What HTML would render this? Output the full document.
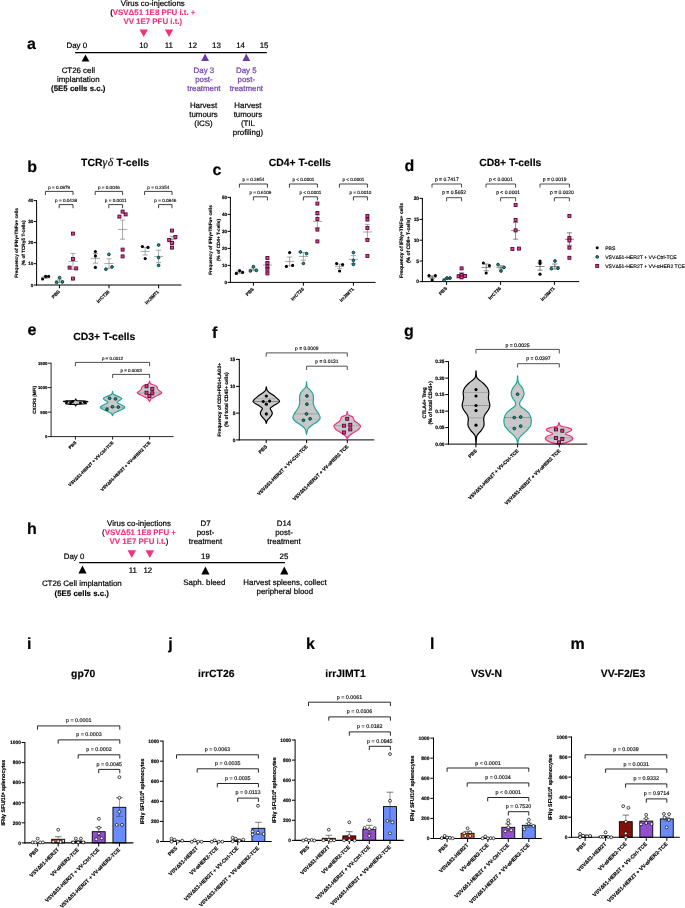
<!DOCTYPE html>
<html><head><meta charset="utf-8"><title>Figure</title>
<style>html,body{margin:0;padding:0;background:#fff}svg{display:block}text{font-family:"Liberation Sans", sans-serif;text-rendering:geometricPrecision}</style>
</head><body>
<svg width="685" height="908" viewBox="0 0 685 908">
<rect width="685" height="908" fill="#fff"/>
<text x="27.00" y="48.90" font-size="16" font-weight="bold" stroke="#000" stroke-width="0.17">a</text>
<text x="27.20" y="171.80" font-size="16" font-weight="bold" stroke="#000" stroke-width="0.17">b</text>
<text x="212.40" y="174.60" font-size="16" font-weight="bold" stroke="#000" stroke-width="0.17">c</text>
<text x="404.40" y="171.40" font-size="16" font-weight="bold" stroke="#000" stroke-width="0.17">d</text>
<text x="27.40" y="335.20" font-size="16" font-weight="bold" stroke="#000" stroke-width="0.17">e</text>
<text x="212.00" y="337.80" font-size="16" font-weight="bold" stroke="#000" stroke-width="0.17">f</text>
<text x="404.00" y="335.80" font-size="16" font-weight="bold" stroke="#000" stroke-width="0.17">g</text>
<text x="27.00" y="533.70" font-size="16" font-weight="bold" stroke="#000" stroke-width="0.17">h</text>
<text x="27.00" y="649.00" font-size="16" font-weight="bold" stroke="#000" stroke-width="0.17">i</text>
<text x="168.20" y="649.00" font-size="16" font-weight="bold" stroke="#000" stroke-width="0.17">j</text>
<text x="306.00" y="649.00" font-size="16" font-weight="bold" stroke="#000" stroke-width="0.17">k</text>
<text x="429.90" y="649.00" font-size="16" font-weight="bold" stroke="#000" stroke-width="0.17">l</text>
<text x="570.60" y="649.00" font-size="16" font-weight="bold" stroke="#000" stroke-width="0.17">m</text>
<text x="152.80" y="5.60" font-size="7.9" text-anchor="middle" stroke="#000" stroke-width="0.20">Virus co-injections</text>
<text x="152.80" y="15.00" font-size="7.9" font-weight="bold" text-anchor="middle" fill="#f5317f" stroke="#f5317f" stroke-width="0.12"><tspan fill="#111" stroke="#111">(</tspan>VSVΔ51 1E8 PFU i.t. +</text>
<text x="152.80" y="24.00" font-size="7.9" font-weight="bold" text-anchor="middle" fill="#f5317f" stroke="#f5317f" stroke-width="0.12">VV 1E7 PFU i.t.)</text>
<polygon points="139.45,29.50 147.95,29.50 143.70,36.90" fill="#f5317f"/>
<polygon points="164.75,29.50 173.25,29.50 169.00,36.90" fill="#f5317f"/>
<text x="66.50" y="48.40" font-size="7.9" stroke="#000" stroke-width="0.20">Day 0</text>
<text x="143.60" y="48.40" font-size="7.9" text-anchor="middle" stroke="#000" stroke-width="0.20">10</text>
<text x="168.90" y="48.40" font-size="7.9" text-anchor="middle" stroke="#000" stroke-width="0.20">11</text>
<text x="192.70" y="48.40" font-size="7.9" text-anchor="middle" stroke="#000" stroke-width="0.20">12</text>
<text x="216.50" y="48.40" font-size="7.9" text-anchor="middle" stroke="#000" stroke-width="0.20">13</text>
<text x="240.60" y="48.40" font-size="7.9" text-anchor="middle" stroke="#000" stroke-width="0.20">14</text>
<text x="264.10" y="48.40" font-size="7.9" text-anchor="middle" stroke="#000" stroke-width="0.20">15</text>
<line x1="75.10" y1="52.70" x2="266.80" y2="52.70" stroke="#000" stroke-width="1.3"/>
<polygon points="81.60,61.40 89.40,61.40 85.50,54.60" fill="#000"/>
<polygon points="201.20,60.90 209.00,60.90 205.10,53.60" fill="#6d3aa8"/>
<polygon points="242.40,60.90 250.20,60.90 246.30,53.60" fill="#6d3aa8"/>
<text x="78.30" y="72.50" font-size="7.9" text-anchor="middle" stroke="#000" stroke-width="0.20">CT26 cell</text>
<text x="78.30" y="81.50" font-size="7.9" text-anchor="middle" stroke="#000" stroke-width="0.20">implantation</text>
<text x="78.30" y="90.60" font-size="7.9" font-weight="bold" text-anchor="middle" stroke="#000" stroke-width="0.12">(5E5 cells s.c.)</text>
<text x="203.90" y="72.50" font-size="7.9" text-anchor="middle" fill="#6d3aa8" stroke="#6d3aa8" stroke-width="0.20">Day 3</text>
<text x="203.90" y="81.55" font-size="7.9" text-anchor="middle" fill="#6d3aa8" stroke="#6d3aa8" stroke-width="0.20">post-</text>
<text x="203.90" y="90.60" font-size="7.9" text-anchor="middle" fill="#6d3aa8" stroke="#6d3aa8" stroke-width="0.20">treatment</text>
<text x="246.30" y="72.50" font-size="7.9" text-anchor="middle" fill="#6d3aa8" stroke="#6d3aa8" stroke-width="0.20">Day 5</text>
<text x="246.30" y="81.55" font-size="7.9" text-anchor="middle" fill="#6d3aa8" stroke="#6d3aa8" stroke-width="0.20">post-</text>
<text x="246.30" y="90.60" font-size="7.9" text-anchor="middle" fill="#6d3aa8" stroke="#6d3aa8" stroke-width="0.20">treatment</text>
<text x="203.50" y="107.60" font-size="7.9" text-anchor="middle" stroke="#000" stroke-width="0.20">Harvest</text>
<text x="203.50" y="116.70" font-size="7.9" text-anchor="middle" stroke="#000" stroke-width="0.20">tumours</text>
<text x="203.50" y="125.80" font-size="7.9" text-anchor="middle" stroke="#000" stroke-width="0.20">(ICS)</text>
<text x="247.90" y="107.60" font-size="7.9" text-anchor="middle" stroke="#000" stroke-width="0.20">Harvest</text>
<text x="247.90" y="116.70" font-size="7.9" text-anchor="middle" stroke="#000" stroke-width="0.20">tumours</text>
<text x="247.90" y="125.80" font-size="7.9" text-anchor="middle" stroke="#000" stroke-width="0.20">(TIL</text>
<text x="247.90" y="134.90" font-size="7.9" text-anchor="middle" stroke="#000" stroke-width="0.20">profiling)</text>
<text x="115.00" y="166.00" font-size="10.4" font-weight="bold" text-anchor="middle" stroke="#000" stroke-width="0.14">TCR<tspan font-family='"Liberation Serif", serif' font-style="italic" font-weight="normal" font-size="11.8" letter-spacing="0.6">γδ</tspan> T-cells</text>
<line x1="36.60" y1="200.10" x2="36.60" y2="285.50" stroke="#000" stroke-width="1.0"/>
<line x1="33.80" y1="200.60" x2="36.60" y2="200.60" stroke="#000" stroke-width="1.0"/>
<text x="33.30" y="202.26" font-size="4.6" font-weight="bold" text-anchor="end" stroke="#000" stroke-width="0.17">40</text>
<line x1="33.80" y1="221.50" x2="36.60" y2="221.50" stroke="#000" stroke-width="1.0"/>
<text x="33.30" y="223.16" font-size="4.6" font-weight="bold" text-anchor="end" stroke="#000" stroke-width="0.17">30</text>
<line x1="33.80" y1="242.60" x2="36.60" y2="242.60" stroke="#000" stroke-width="1.0"/>
<text x="33.30" y="244.26" font-size="4.6" font-weight="bold" text-anchor="end" stroke="#000" stroke-width="0.17">20</text>
<line x1="33.80" y1="263.70" x2="36.60" y2="263.70" stroke="#000" stroke-width="1.0"/>
<text x="33.30" y="265.36" font-size="4.6" font-weight="bold" text-anchor="end" stroke="#000" stroke-width="0.17">10</text>
<line x1="33.80" y1="285.00" x2="36.60" y2="285.00" stroke="#000" stroke-width="1.0"/>
<text x="33.30" y="286.66" font-size="4.6" font-weight="bold" text-anchor="end" stroke="#000" stroke-width="0.17">0</text>
<line x1="35.90" y1="285.00" x2="181.40" y2="285.00" stroke="#000" stroke-width="1.0"/>
<text x="17.60" y="243.00" font-size="4.68" font-weight="bold" text-anchor="middle" stroke="#000" stroke-width="0.17" transform="rotate(-90 17.60 243.00)">Frequency of IFNγ+TNFα+ cells</text>
<text x="25.20" y="243.00" font-size="4.68" font-weight="bold" text-anchor="middle" stroke="#000" stroke-width="0.17" transform="rotate(-90 25.20 243.00)">(% of TCRγδ T-cells)</text>
<line x1="59.40" y1="285.00" x2="59.40" y2="288.30" stroke="#000" stroke-width="1.0"/>
<text x="60.20" y="292.10" font-size="4.6" font-weight="bold" text-anchor="end" stroke="#000" stroke-width="0.17" transform="rotate(-45 60.20 292.10)">PBS</text>
<line x1="109.00" y1="285.00" x2="109.00" y2="288.30" stroke="#000" stroke-width="1.0"/>
<text x="109.80" y="292.10" font-size="4.6" font-weight="bold" text-anchor="end" stroke="#000" stroke-width="0.17" transform="rotate(-45 109.80 292.10)">irrCT26</text>
<line x1="158.60" y1="285.00" x2="158.60" y2="288.30" stroke="#000" stroke-width="1.0"/>
<text x="159.40" y="292.10" font-size="4.6" font-weight="bold" text-anchor="end" stroke="#000" stroke-width="0.17" transform="rotate(-45 159.40 292.10)">irrJIMT1</text>
<path d="M45.40 195.00V191.40H73.00V195.00" fill="none" stroke="#111" stroke-width="0.8"/>
<text x="59.20" y="188.50" font-size="4.63" text-anchor="middle" fill="#111" stroke="#111" stroke-width="0.15">p = 0.0979</text>
<path d="M59.20 208.20V204.60H73.00V208.20" fill="none" stroke="#111" stroke-width="0.8"/>
<text x="66.10" y="201.50" font-size="4.63" text-anchor="middle" fill="#111" stroke="#111" stroke-width="0.15">p = 0.0438</text>
<path d="M95.20 195.00V191.40H122.60V195.00" fill="none" stroke="#111" stroke-width="0.8"/>
<text x="108.90" y="188.50" font-size="4.63" text-anchor="middle" fill="#111" stroke="#111" stroke-width="0.15">p = 0.0046</text>
<path d="M108.80 208.20V204.60H122.60V208.20" fill="none" stroke="#111" stroke-width="0.8"/>
<text x="115.70" y="201.50" font-size="4.63" text-anchor="middle" fill="#111" stroke="#111" stroke-width="0.15">p = 0.0011</text>
<path d="M144.60 195.00V191.40H172.00V195.00" fill="none" stroke="#111" stroke-width="0.8"/>
<text x="158.30" y="188.50" font-size="4.63" text-anchor="middle" fill="#111" stroke="#111" stroke-width="0.15">p = 0.2354</text>
<path d="M158.60 208.20V204.60H172.00V208.20" fill="none" stroke="#111" stroke-width="0.8"/>
<text x="165.30" y="201.50" font-size="4.63" text-anchor="middle" fill="#111" stroke="#111" stroke-width="0.15">p = 0.0846</text>
<line x1="41.00" y1="277.20" x2="50.20" y2="277.20" stroke="#707070" stroke-width="0.6"/>
<line x1="45.60" y1="276.20" x2="45.60" y2="278.40" stroke="#707070" stroke-width="0.6"/>
<line x1="43.00" y1="276.20" x2="48.20" y2="276.20" stroke="#707070" stroke-width="0.6"/>
<line x1="43.00" y1="278.40" x2="48.20" y2="278.40" stroke="#707070" stroke-width="0.6"/>
<circle cx="42.60" cy="279.00" r="1.58" fill="#000"/>
<circle cx="45.60" cy="276.40" r="1.58" fill="#000"/>
<circle cx="48.60" cy="276.40" r="1.58" fill="#000"/>
<line x1="54.90" y1="280.80" x2="64.10" y2="280.80" stroke="#707070" stroke-width="0.6"/>
<line x1="59.50" y1="279.20" x2="59.50" y2="282.40" stroke="#707070" stroke-width="0.6"/>
<line x1="56.90" y1="279.20" x2="62.10" y2="279.20" stroke="#707070" stroke-width="0.6"/>
<line x1="56.90" y1="282.40" x2="62.10" y2="282.40" stroke="#707070" stroke-width="0.6"/>
<circle cx="59.60" cy="277.60" r="1.38" fill="#0e968c" stroke="#062e2b" stroke-width="0.85"/>
<circle cx="56.60" cy="282.40" r="1.38" fill="#0e968c" stroke="#062e2b" stroke-width="0.85"/>
<circle cx="62.40" cy="282.00" r="1.38" fill="#0e968c" stroke="#062e2b" stroke-width="0.85"/>
<line x1="68.40" y1="261.40" x2="77.60" y2="261.40" stroke="#707070" stroke-width="0.6"/>
<line x1="73.00" y1="253.40" x2="73.00" y2="269.40" stroke="#707070" stroke-width="0.6"/>
<line x1="70.40" y1="253.40" x2="75.60" y2="253.40" stroke="#707070" stroke-width="0.6"/>
<line x1="70.40" y1="269.40" x2="75.60" y2="269.40" stroke="#707070" stroke-width="0.6"/>
<rect x="71.50" y="232.10" width="3.0" height="3.0" fill="#fa309b" stroke="#3f0626" stroke-width="0.85"/>
<rect x="71.50" y="257.50" width="3.0" height="3.0" fill="#fa309b" stroke="#3f0626" stroke-width="0.85"/>
<rect x="68.10" y="266.10" width="3.0" height="3.0" fill="#fa309b" stroke="#3f0626" stroke-width="0.85"/>
<rect x="74.70" y="266.90" width="3.0" height="3.0" fill="#fa309b" stroke="#3f0626" stroke-width="0.85"/>
<rect x="71.50" y="277.10" width="3.0" height="3.0" fill="#fa309b" stroke="#3f0626" stroke-width="0.85"/>
<line x1="90.80" y1="258.40" x2="100.00" y2="258.40" stroke="#707070" stroke-width="0.6"/>
<line x1="95.40" y1="253.50" x2="95.40" y2="263.20" stroke="#707070" stroke-width="0.6"/>
<line x1="92.80" y1="253.50" x2="98.00" y2="253.50" stroke="#707070" stroke-width="0.6"/>
<line x1="92.80" y1="263.20" x2="98.00" y2="263.20" stroke="#707070" stroke-width="0.6"/>
<circle cx="95.40" cy="251.50" r="1.58" fill="#000"/>
<circle cx="95.40" cy="255.90" r="1.58" fill="#000"/>
<circle cx="95.40" cy="267.40" r="1.58" fill="#000"/>
<line x1="104.40" y1="263.50" x2="113.60" y2="263.50" stroke="#707070" stroke-width="0.6"/>
<line x1="109.00" y1="258.80" x2="109.00" y2="268.40" stroke="#707070" stroke-width="0.6"/>
<line x1="106.40" y1="258.80" x2="111.60" y2="258.80" stroke="#707070" stroke-width="0.6"/>
<line x1="106.40" y1="268.40" x2="111.60" y2="268.40" stroke="#707070" stroke-width="0.6"/>
<circle cx="108.90" cy="254.40" r="1.38" fill="#0e968c" stroke="#062e2b" stroke-width="0.85"/>
<circle cx="105.90" cy="269.20" r="1.38" fill="#0e968c" stroke="#062e2b" stroke-width="0.85"/>
<circle cx="112.00" cy="266.90" r="1.38" fill="#0e968c" stroke="#062e2b" stroke-width="0.85"/>
<line x1="118.00" y1="229.40" x2="127.20" y2="229.40" stroke="#707070" stroke-width="0.6"/>
<line x1="122.60" y1="220.00" x2="122.60" y2="239.20" stroke="#707070" stroke-width="0.6"/>
<line x1="120.00" y1="220.00" x2="125.20" y2="220.00" stroke="#707070" stroke-width="0.6"/>
<line x1="120.00" y1="239.20" x2="125.20" y2="239.20" stroke="#707070" stroke-width="0.6"/>
<rect x="121.10" y="210.10" width="3.0" height="3.0" fill="#fa309b" stroke="#3f0626" stroke-width="0.85"/>
<rect x="117.90" y="215.10" width="3.0" height="3.0" fill="#fa309b" stroke="#3f0626" stroke-width="0.85"/>
<rect x="124.10" y="212.90" width="3.0" height="3.0" fill="#fa309b" stroke="#3f0626" stroke-width="0.85"/>
<rect x="121.10" y="248.10" width="3.0" height="3.0" fill="#fa309b" stroke="#3f0626" stroke-width="0.85"/>
<rect x="121.10" y="254.90" width="3.0" height="3.0" fill="#fa309b" stroke="#3f0626" stroke-width="0.85"/>
<line x1="140.60" y1="251.40" x2="149.80" y2="251.40" stroke="#707070" stroke-width="0.6"/>
<line x1="145.20" y1="247.40" x2="145.20" y2="255.00" stroke="#707070" stroke-width="0.6"/>
<line x1="142.60" y1="247.40" x2="147.80" y2="247.40" stroke="#707070" stroke-width="0.6"/>
<line x1="142.60" y1="255.00" x2="147.80" y2="255.00" stroke="#707070" stroke-width="0.6"/>
<circle cx="142.40" cy="246.60" r="1.58" fill="#000"/>
<circle cx="148.00" cy="247.40" r="1.58" fill="#000"/>
<circle cx="145.20" cy="258.60" r="1.58" fill="#000"/>
<line x1="154.00" y1="256.40" x2="163.20" y2="256.40" stroke="#707070" stroke-width="0.6"/>
<line x1="158.60" y1="250.20" x2="158.60" y2="262.60" stroke="#707070" stroke-width="0.6"/>
<line x1="156.00" y1="250.20" x2="161.20" y2="250.20" stroke="#707070" stroke-width="0.6"/>
<line x1="156.00" y1="262.60" x2="161.20" y2="262.60" stroke="#707070" stroke-width="0.6"/>
<circle cx="158.60" cy="245.00" r="1.38" fill="#0e968c" stroke="#062e2b" stroke-width="0.85"/>
<circle cx="158.60" cy="257.60" r="1.38" fill="#0e968c" stroke="#062e2b" stroke-width="0.85"/>
<circle cx="158.60" cy="265.40" r="1.38" fill="#0e968c" stroke="#062e2b" stroke-width="0.85"/>
<line x1="167.40" y1="239.60" x2="176.60" y2="239.60" stroke="#707070" stroke-width="0.6"/>
<line x1="172.00" y1="236.40" x2="172.00" y2="242.80" stroke="#707070" stroke-width="0.6"/>
<line x1="169.40" y1="236.40" x2="174.60" y2="236.40" stroke="#707070" stroke-width="0.6"/>
<line x1="169.40" y1="242.80" x2="174.60" y2="242.80" stroke="#707070" stroke-width="0.6"/>
<rect x="170.50" y="229.10" width="3.0" height="3.0" fill="#fa309b" stroke="#3f0626" stroke-width="0.85"/>
<rect x="173.90" y="235.50" width="3.0" height="3.0" fill="#fa309b" stroke="#3f0626" stroke-width="0.85"/>
<rect x="167.70" y="238.50" width="3.0" height="3.0" fill="#fa309b" stroke="#3f0626" stroke-width="0.85"/>
<rect x="170.50" y="241.50" width="3.0" height="3.0" fill="#fa309b" stroke="#3f0626" stroke-width="0.85"/>
<rect x="170.50" y="246.10" width="3.0" height="3.0" fill="#fa309b" stroke="#3f0626" stroke-width="0.85"/>
<text x="299.80" y="166.00" font-size="10.4" font-weight="bold" text-anchor="middle" stroke="#000" stroke-width="0.14">CD4+ T-cells</text>
<line x1="230.40" y1="196.90" x2="230.40" y2="282.90" stroke="#000" stroke-width="1.0"/>
<line x1="227.60" y1="197.40" x2="230.40" y2="197.40" stroke="#000" stroke-width="1.0"/>
<text x="227.10" y="199.06" font-size="4.6" font-weight="bold" text-anchor="end" stroke="#000" stroke-width="0.17">50</text>
<line x1="227.60" y1="214.40" x2="230.40" y2="214.40" stroke="#000" stroke-width="1.0"/>
<text x="227.10" y="216.06" font-size="4.6" font-weight="bold" text-anchor="end" stroke="#000" stroke-width="0.17">40</text>
<line x1="227.60" y1="231.40" x2="230.40" y2="231.40" stroke="#000" stroke-width="1.0"/>
<text x="227.10" y="233.06" font-size="4.6" font-weight="bold" text-anchor="end" stroke="#000" stroke-width="0.17">30</text>
<line x1="227.60" y1="248.40" x2="230.40" y2="248.40" stroke="#000" stroke-width="1.0"/>
<text x="227.10" y="250.06" font-size="4.6" font-weight="bold" text-anchor="end" stroke="#000" stroke-width="0.17">20</text>
<line x1="227.60" y1="265.40" x2="230.40" y2="265.40" stroke="#000" stroke-width="1.0"/>
<text x="227.10" y="267.06" font-size="4.6" font-weight="bold" text-anchor="end" stroke="#000" stroke-width="0.17">10</text>
<line x1="227.60" y1="282.40" x2="230.40" y2="282.40" stroke="#000" stroke-width="1.0"/>
<text x="227.10" y="284.06" font-size="4.6" font-weight="bold" text-anchor="end" stroke="#000" stroke-width="0.17">0</text>
<line x1="229.90" y1="282.40" x2="375.60" y2="282.40" stroke="#000" stroke-width="1.0"/>
<text x="212.20" y="240.00" font-size="4.68" font-weight="bold" text-anchor="middle" stroke="#000" stroke-width="0.17" transform="rotate(-90 212.20 240.00)">Frequency of IFNγ+TNFα+ cells</text>
<text x="219.80" y="240.00" font-size="4.68" font-weight="bold" text-anchor="middle" stroke="#000" stroke-width="0.17" transform="rotate(-90 219.80 240.00)">(% of CD4+ T-cells)</text>
<line x1="253.40" y1="282.40" x2="253.40" y2="285.70" stroke="#000" stroke-width="1.0"/>
<text x="254.20" y="289.50" font-size="4.6" font-weight="bold" text-anchor="end" stroke="#000" stroke-width="0.17" transform="rotate(-45 254.20 289.50)">PBS</text>
<line x1="303.40" y1="282.40" x2="303.40" y2="285.70" stroke="#000" stroke-width="1.0"/>
<text x="304.20" y="289.50" font-size="4.6" font-weight="bold" text-anchor="end" stroke="#000" stroke-width="0.17" transform="rotate(-45 304.20 289.50)">irrCT26</text>
<line x1="353.40" y1="282.40" x2="353.40" y2="285.70" stroke="#000" stroke-width="1.0"/>
<text x="354.20" y="289.50" font-size="4.6" font-weight="bold" text-anchor="end" stroke="#000" stroke-width="0.17" transform="rotate(-45 354.20 289.50)">irrJIMT1</text>
<path d="M239.40 187.60V184.00H267.40V187.60" fill="none" stroke="#111" stroke-width="0.8"/>
<text x="253.40" y="180.80" font-size="4.63" text-anchor="middle" fill="#111" stroke="#111" stroke-width="0.15">p = 0.3954</text>
<path d="M253.40 200.40V196.80H267.40V200.40" fill="none" stroke="#111" stroke-width="0.8"/>
<text x="260.40" y="193.60" font-size="4.63" text-anchor="middle" fill="#111" stroke="#111" stroke-width="0.15">p = 0.6109</text>
<path d="M289.40 187.60V184.00H317.40V187.60" fill="none" stroke="#111" stroke-width="0.8"/>
<text x="303.40" y="180.80" font-size="4.63" text-anchor="middle" fill="#111" stroke="#111" stroke-width="0.15">p &lt; 0.0001</text>
<path d="M303.40 200.40V196.80H317.40V200.40" fill="none" stroke="#111" stroke-width="0.8"/>
<text x="310.40" y="193.60" font-size="4.63" text-anchor="middle" fill="#111" stroke="#111" stroke-width="0.15">p &lt; 0.0001</text>
<path d="M339.40 187.60V184.00H367.40V187.60" fill="none" stroke="#111" stroke-width="0.8"/>
<text x="353.40" y="180.80" font-size="4.63" text-anchor="middle" fill="#111" stroke="#111" stroke-width="0.15">p &lt; 0.0001</text>
<path d="M353.40 200.40V196.80H367.40V200.40" fill="none" stroke="#111" stroke-width="0.8"/>
<text x="360.40" y="193.60" font-size="4.63" text-anchor="middle" fill="#111" stroke="#111" stroke-width="0.15">p = 0.0010</text>
<line x1="235.00" y1="272.20" x2="244.20" y2="272.20" stroke="#707070" stroke-width="0.6"/>
<line x1="239.60" y1="271.20" x2="239.60" y2="273.20" stroke="#707070" stroke-width="0.6"/>
<line x1="237.00" y1="271.20" x2="242.20" y2="271.20" stroke="#707070" stroke-width="0.6"/>
<line x1="237.00" y1="273.20" x2="242.20" y2="273.20" stroke="#707070" stroke-width="0.6"/>
<circle cx="236.40" cy="273.40" r="1.58" fill="#000"/>
<circle cx="239.60" cy="270.60" r="1.58" fill="#000"/>
<circle cx="242.60" cy="272.40" r="1.58" fill="#000"/>
<line x1="248.80" y1="269.40" x2="258.00" y2="269.40" stroke="#707070" stroke-width="0.6"/>
<line x1="253.40" y1="268.00" x2="253.40" y2="270.80" stroke="#707070" stroke-width="0.6"/>
<line x1="250.80" y1="268.00" x2="256.00" y2="268.00" stroke="#707070" stroke-width="0.6"/>
<line x1="250.80" y1="270.80" x2="256.00" y2="270.80" stroke="#707070" stroke-width="0.6"/>
<circle cx="250.40" cy="271.00" r="1.38" fill="#0e968c" stroke="#062e2b" stroke-width="0.85"/>
<circle cx="253.40" cy="266.60" r="1.38" fill="#0e968c" stroke="#062e2b" stroke-width="0.85"/>
<circle cx="256.40" cy="270.40" r="1.38" fill="#0e968c" stroke="#062e2b" stroke-width="0.85"/>
<line x1="262.80" y1="265.00" x2="272.00" y2="265.00" stroke="#707070" stroke-width="0.6"/>
<line x1="267.40" y1="262.40" x2="267.40" y2="267.80" stroke="#707070" stroke-width="0.6"/>
<line x1="264.80" y1="262.40" x2="270.00" y2="262.40" stroke="#707070" stroke-width="0.6"/>
<line x1="264.80" y1="267.80" x2="270.00" y2="267.80" stroke="#707070" stroke-width="0.6"/>
<rect x="265.90" y="256.50" width="3.0" height="3.0" fill="#fa309b" stroke="#3f0626" stroke-width="0.85"/>
<rect x="265.90" y="261.50" width="3.0" height="3.0" fill="#fa309b" stroke="#3f0626" stroke-width="0.85"/>
<rect x="265.90" y="264.90" width="3.0" height="3.0" fill="#fa309b" stroke="#3f0626" stroke-width="0.85"/>
<rect x="265.90" y="268.10" width="3.0" height="3.0" fill="#fa309b" stroke="#3f0626" stroke-width="0.85"/>
<rect x="265.90" y="271.90" width="3.0" height="3.0" fill="#fa309b" stroke="#3f0626" stroke-width="0.85"/>
<line x1="285.00" y1="261.40" x2="294.20" y2="261.40" stroke="#707070" stroke-width="0.6"/>
<line x1="289.60" y1="257.00" x2="289.60" y2="265.80" stroke="#707070" stroke-width="0.6"/>
<line x1="287.00" y1="257.00" x2="292.20" y2="257.00" stroke="#707070" stroke-width="0.6"/>
<line x1="287.00" y1="265.80" x2="292.20" y2="265.80" stroke="#707070" stroke-width="0.6"/>
<circle cx="289.60" cy="252.60" r="1.58" fill="#000"/>
<circle cx="286.40" cy="266.40" r="1.58" fill="#000"/>
<circle cx="292.60" cy="265.40" r="1.58" fill="#000"/>
<line x1="298.80" y1="256.40" x2="308.00" y2="256.40" stroke="#707070" stroke-width="0.6"/>
<line x1="303.40" y1="252.60" x2="303.40" y2="260.20" stroke="#707070" stroke-width="0.6"/>
<line x1="300.80" y1="252.60" x2="306.00" y2="252.60" stroke="#707070" stroke-width="0.6"/>
<line x1="300.80" y1="260.20" x2="306.00" y2="260.20" stroke="#707070" stroke-width="0.6"/>
<circle cx="300.40" cy="252.00" r="1.38" fill="#0e968c" stroke="#062e2b" stroke-width="0.85"/>
<circle cx="306.60" cy="253.60" r="1.38" fill="#0e968c" stroke="#062e2b" stroke-width="0.85"/>
<circle cx="303.40" cy="263.40" r="1.38" fill="#0e968c" stroke="#062e2b" stroke-width="0.85"/>
<line x1="312.80" y1="221.40" x2="322.00" y2="221.40" stroke="#707070" stroke-width="0.6"/>
<line x1="317.40" y1="215.00" x2="317.40" y2="227.60" stroke="#707070" stroke-width="0.6"/>
<line x1="314.80" y1="215.00" x2="320.00" y2="215.00" stroke="#707070" stroke-width="0.6"/>
<line x1="314.80" y1="227.60" x2="320.00" y2="227.60" stroke="#707070" stroke-width="0.6"/>
<rect x="315.90" y="202.10" width="3.0" height="3.0" fill="#fa309b" stroke="#3f0626" stroke-width="0.85"/>
<rect x="315.90" y="211.50" width="3.0" height="3.0" fill="#fa309b" stroke="#3f0626" stroke-width="0.85"/>
<rect x="315.90" y="217.50" width="3.0" height="3.0" fill="#fa309b" stroke="#3f0626" stroke-width="0.85"/>
<rect x="315.90" y="228.10" width="3.0" height="3.0" fill="#fa309b" stroke="#3f0626" stroke-width="0.85"/>
<rect x="315.90" y="239.90" width="3.0" height="3.0" fill="#fa309b" stroke="#3f0626" stroke-width="0.85"/>
<line x1="335.00" y1="266.40" x2="344.20" y2="266.40" stroke="#707070" stroke-width="0.6"/>
<line x1="339.60" y1="264.20" x2="339.60" y2="268.60" stroke="#707070" stroke-width="0.6"/>
<line x1="337.00" y1="264.20" x2="342.20" y2="264.20" stroke="#707070" stroke-width="0.6"/>
<line x1="337.00" y1="268.60" x2="342.20" y2="268.60" stroke="#707070" stroke-width="0.6"/>
<circle cx="336.60" cy="263.60" r="1.58" fill="#000"/>
<circle cx="342.60" cy="264.60" r="1.58" fill="#000"/>
<circle cx="339.60" cy="271.00" r="1.58" fill="#000"/>
<line x1="348.80" y1="259.40" x2="358.00" y2="259.40" stroke="#707070" stroke-width="0.6"/>
<line x1="353.40" y1="255.60" x2="353.40" y2="263.40" stroke="#707070" stroke-width="0.6"/>
<line x1="350.80" y1="255.60" x2="356.00" y2="255.60" stroke="#707070" stroke-width="0.6"/>
<line x1="350.80" y1="263.40" x2="356.00" y2="263.40" stroke="#707070" stroke-width="0.6"/>
<circle cx="353.40" cy="252.60" r="1.38" fill="#0e968c" stroke="#062e2b" stroke-width="0.85"/>
<circle cx="353.40" cy="260.40" r="1.38" fill="#0e968c" stroke="#062e2b" stroke-width="0.85"/>
<circle cx="353.40" cy="264.40" r="1.38" fill="#0e968c" stroke="#062e2b" stroke-width="0.85"/>
<line x1="362.80" y1="232.00" x2="372.00" y2="232.00" stroke="#707070" stroke-width="0.6"/>
<line x1="367.40" y1="224.40" x2="367.40" y2="239.20" stroke="#707070" stroke-width="0.6"/>
<line x1="364.80" y1="224.40" x2="370.00" y2="224.40" stroke="#707070" stroke-width="0.6"/>
<line x1="364.80" y1="239.20" x2="370.00" y2="239.20" stroke="#707070" stroke-width="0.6"/>
<rect x="365.90" y="214.50" width="3.0" height="3.0" fill="#fa309b" stroke="#3f0626" stroke-width="0.85"/>
<rect x="365.90" y="218.10" width="3.0" height="3.0" fill="#fa309b" stroke="#3f0626" stroke-width="0.85"/>
<rect x="365.90" y="226.50" width="3.0" height="3.0" fill="#fa309b" stroke="#3f0626" stroke-width="0.85"/>
<rect x="365.90" y="238.50" width="3.0" height="3.0" fill="#fa309b" stroke="#3f0626" stroke-width="0.85"/>
<rect x="365.90" y="254.50" width="3.0" height="3.0" fill="#fa309b" stroke="#3f0626" stroke-width="0.85"/>
<text x="510.30" y="166.00" font-size="10.4" font-weight="bold" text-anchor="middle" stroke="#000" stroke-width="0.14">CD8+ T-cells</text>
<line x1="422.40" y1="197.90" x2="422.40" y2="282.10" stroke="#000" stroke-width="1.0"/>
<line x1="419.60" y1="198.40" x2="422.40" y2="198.40" stroke="#000" stroke-width="1.0"/>
<text x="419.10" y="200.16" font-size="4.9" font-weight="bold" text-anchor="end" stroke="#000" stroke-width="0.17">20</text>
<line x1="419.60" y1="219.40" x2="422.40" y2="219.40" stroke="#000" stroke-width="1.0"/>
<text x="419.10" y="221.16" font-size="4.9" font-weight="bold" text-anchor="end" stroke="#000" stroke-width="0.17">15</text>
<line x1="419.60" y1="240.20" x2="422.40" y2="240.20" stroke="#000" stroke-width="1.0"/>
<text x="419.10" y="241.96" font-size="4.9" font-weight="bold" text-anchor="end" stroke="#000" stroke-width="0.17">10</text>
<line x1="419.60" y1="261.00" x2="422.40" y2="261.00" stroke="#000" stroke-width="1.0"/>
<text x="419.10" y="262.76" font-size="4.9" font-weight="bold" text-anchor="end" stroke="#000" stroke-width="0.17">5</text>
<line x1="419.60" y1="281.60" x2="422.40" y2="281.60" stroke="#000" stroke-width="1.0"/>
<text x="419.10" y="283.36" font-size="4.9" font-weight="bold" text-anchor="end" stroke="#000" stroke-width="0.17">0</text>
<line x1="421.90" y1="281.60" x2="579.20" y2="281.60" stroke="#000" stroke-width="1.0"/>
<text x="402.90" y="240.40" font-size="5.02" font-weight="bold" text-anchor="middle" stroke="#000" stroke-width="0.17" transform="rotate(-90 402.90 240.40)">Frequency of IFNγ+TNFα+ cells</text>
<text x="410.30" y="240.40" font-size="5.02" font-weight="bold" text-anchor="middle" stroke="#000" stroke-width="0.17" transform="rotate(-90 410.30 240.40)">(% of CD8+ T-cells)</text>
<line x1="446.60" y1="281.60" x2="446.60" y2="284.90" stroke="#000" stroke-width="1.0"/>
<text x="447.40" y="288.70" font-size="4.6" font-weight="bold" text-anchor="end" stroke="#000" stroke-width="0.17" transform="rotate(-45 447.40 288.70)">PBS</text>
<line x1="500.60" y1="281.60" x2="500.60" y2="284.90" stroke="#000" stroke-width="1.0"/>
<text x="501.40" y="288.70" font-size="4.6" font-weight="bold" text-anchor="end" stroke="#000" stroke-width="0.17" transform="rotate(-45 501.40 288.70)">irrCT26</text>
<line x1="554.40" y1="281.60" x2="554.40" y2="284.90" stroke="#000" stroke-width="1.0"/>
<text x="555.20" y="288.70" font-size="4.6" font-weight="bold" text-anchor="end" stroke="#000" stroke-width="0.17" transform="rotate(-45 555.20 288.70)">irrJIMT1</text>
<path d="M432.00 187.60V184.00H461.60V187.60" fill="none" stroke="#222" stroke-width="0.8"/>
<text x="446.80" y="180.80" font-size="5.0" text-anchor="middle" fill="#111" stroke="#111" stroke-width="0.16">p = 0.7417</text>
<path d="M446.60 201.30V197.70H461.60V201.30" fill="none" stroke="#222" stroke-width="0.8"/>
<text x="454.10" y="194.40" font-size="5.0" text-anchor="middle" fill="#111" stroke="#111" stroke-width="0.16">p = 0.5652</text>
<path d="M486.00 187.60V184.00H515.60V187.60" fill="none" stroke="#222" stroke-width="0.8"/>
<text x="500.80" y="180.80" font-size="5.0" text-anchor="middle" fill="#111" stroke="#111" stroke-width="0.16">p &lt; 0.0001</text>
<path d="M500.60 201.30V197.70H515.60V201.30" fill="none" stroke="#222" stroke-width="0.8"/>
<text x="508.10" y="194.40" font-size="5.0" text-anchor="middle" fill="#111" stroke="#111" stroke-width="0.16">p &lt; 0.0001</text>
<path d="M540.00 187.60V184.00H569.40V187.60" fill="none" stroke="#222" stroke-width="0.8"/>
<text x="554.70" y="180.80" font-size="5.0" text-anchor="middle" fill="#111" stroke="#111" stroke-width="0.16">p = 0.0019</text>
<path d="M554.40 201.30V197.70H569.40V201.30" fill="none" stroke="#222" stroke-width="0.8"/>
<text x="561.90" y="194.40" font-size="5.0" text-anchor="middle" fill="#111" stroke="#111" stroke-width="0.16">p = 0.0020</text>
<line x1="427.60" y1="277.20" x2="436.80" y2="277.20" stroke="#3a3a3a" stroke-width="0.6"/>
<line x1="432.20" y1="276.00" x2="432.20" y2="278.40" stroke="#3a3a3a" stroke-width="0.6"/>
<line x1="429.60" y1="276.00" x2="434.80" y2="276.00" stroke="#3a3a3a" stroke-width="0.6"/>
<line x1="429.60" y1="278.40" x2="434.80" y2="278.40" stroke="#3a3a3a" stroke-width="0.6"/>
<circle cx="429.00" cy="275.60" r="1.58" fill="#000"/>
<circle cx="435.40" cy="275.60" r="1.58" fill="#000"/>
<circle cx="432.20" cy="280.00" r="1.58" fill="#000"/>
<line x1="442.40" y1="278.80" x2="451.60" y2="278.80" stroke="#3a3a3a" stroke-width="0.6"/>
<line x1="447.00" y1="278.00" x2="447.00" y2="279.60" stroke="#3a3a3a" stroke-width="0.6"/>
<line x1="444.40" y1="278.00" x2="449.60" y2="278.00" stroke="#3a3a3a" stroke-width="0.6"/>
<line x1="444.40" y1="279.60" x2="449.60" y2="279.60" stroke="#3a3a3a" stroke-width="0.6"/>
<circle cx="444.00" cy="280.40" r="1.38" fill="#0e968c" stroke="#062e2b" stroke-width="0.85"/>
<circle cx="447.00" cy="278.00" r="1.38" fill="#0e968c" stroke="#062e2b" stroke-width="0.85"/>
<circle cx="450.00" cy="278.00" r="1.38" fill="#0e968c" stroke="#062e2b" stroke-width="0.85"/>
<line x1="457.00" y1="274.60" x2="466.20" y2="274.60" stroke="#3a3a3a" stroke-width="0.6"/>
<line x1="461.60" y1="272.80" x2="461.60" y2="276.40" stroke="#3a3a3a" stroke-width="0.6"/>
<line x1="459.00" y1="272.80" x2="464.20" y2="272.80" stroke="#3a3a3a" stroke-width="0.6"/>
<line x1="459.00" y1="276.40" x2="464.20" y2="276.40" stroke="#3a3a3a" stroke-width="0.6"/>
<rect x="460.10" y="266.90" width="3.0" height="3.0" fill="#fa309b" stroke="#3f0626" stroke-width="0.85"/>
<rect x="457.10" y="274.90" width="3.0" height="3.0" fill="#fa309b" stroke="#3f0626" stroke-width="0.85"/>
<rect x="460.10" y="273.50" width="3.0" height="3.0" fill="#fa309b" stroke="#3f0626" stroke-width="0.85"/>
<rect x="463.50" y="274.50" width="3.0" height="3.0" fill="#fa309b" stroke="#3f0626" stroke-width="0.85"/>
<rect x="460.10" y="275.90" width="3.0" height="3.0" fill="#fa309b" stroke="#3f0626" stroke-width="0.85"/>
<line x1="481.60" y1="267.40" x2="490.80" y2="267.40" stroke="#3a3a3a" stroke-width="0.6"/>
<line x1="486.20" y1="264.00" x2="486.20" y2="270.80" stroke="#3a3a3a" stroke-width="0.6"/>
<line x1="483.60" y1="264.00" x2="488.80" y2="264.00" stroke="#3a3a3a" stroke-width="0.6"/>
<line x1="483.60" y1="270.80" x2="488.80" y2="270.80" stroke="#3a3a3a" stroke-width="0.6"/>
<circle cx="483.40" cy="263.00" r="1.58" fill="#000"/>
<circle cx="489.40" cy="265.60" r="1.58" fill="#000"/>
<circle cx="486.20" cy="273.00" r="1.58" fill="#000"/>
<line x1="496.40" y1="267.40" x2="505.60" y2="267.40" stroke="#3a3a3a" stroke-width="0.6"/>
<line x1="501.00" y1="265.80" x2="501.00" y2="269.00" stroke="#3a3a3a" stroke-width="0.6"/>
<line x1="498.40" y1="265.80" x2="503.60" y2="265.80" stroke="#3a3a3a" stroke-width="0.6"/>
<line x1="498.40" y1="269.00" x2="503.60" y2="269.00" stroke="#3a3a3a" stroke-width="0.6"/>
<circle cx="498.00" cy="264.60" r="1.38" fill="#0e968c" stroke="#062e2b" stroke-width="0.85"/>
<circle cx="504.00" cy="267.40" r="1.38" fill="#0e968c" stroke="#062e2b" stroke-width="0.85"/>
<circle cx="501.00" cy="271.00" r="1.38" fill="#0e968c" stroke="#062e2b" stroke-width="0.85"/>
<line x1="511.00" y1="230.60" x2="520.20" y2="230.60" stroke="#3a3a3a" stroke-width="0.6"/>
<line x1="515.60" y1="222.40" x2="515.60" y2="239.20" stroke="#3a3a3a" stroke-width="0.6"/>
<line x1="513.00" y1="222.40" x2="518.20" y2="222.40" stroke="#3a3a3a" stroke-width="0.6"/>
<line x1="513.00" y1="239.20" x2="518.20" y2="239.20" stroke="#3a3a3a" stroke-width="0.6"/>
<rect x="514.10" y="203.50" width="3.0" height="3.0" fill="#fa309b" stroke="#3f0626" stroke-width="0.85"/>
<rect x="514.10" y="218.50" width="3.0" height="3.0" fill="#fa309b" stroke="#3f0626" stroke-width="0.85"/>
<rect x="514.10" y="228.90" width="3.0" height="3.0" fill="#fa309b" stroke="#3f0626" stroke-width="0.85"/>
<rect x="510.90" y="247.50" width="3.0" height="3.0" fill="#fa309b" stroke="#3f0626" stroke-width="0.85"/>
<rect x="517.50" y="247.10" width="3.0" height="3.0" fill="#fa309b" stroke="#3f0626" stroke-width="0.85"/>
<line x1="535.40" y1="266.50" x2="544.60" y2="266.50" stroke="#3a3a3a" stroke-width="0.6"/>
<line x1="540.00" y1="262.80" x2="540.00" y2="270.20" stroke="#3a3a3a" stroke-width="0.6"/>
<line x1="537.40" y1="262.80" x2="542.60" y2="262.80" stroke="#3a3a3a" stroke-width="0.6"/>
<line x1="537.40" y1="270.20" x2="542.60" y2="270.20" stroke="#3a3a3a" stroke-width="0.6"/>
<circle cx="540.00" cy="261.00" r="1.58" fill="#000"/>
<circle cx="540.00" cy="263.40" r="1.58" fill="#000"/>
<circle cx="540.00" cy="274.20" r="1.58" fill="#000"/>
<line x1="550.20" y1="266.50" x2="559.40" y2="266.50" stroke="#3a3a3a" stroke-width="0.6"/>
<line x1="554.80" y1="264.00" x2="554.80" y2="269.00" stroke="#3a3a3a" stroke-width="0.6"/>
<line x1="552.20" y1="264.00" x2="557.40" y2="264.00" stroke="#3a3a3a" stroke-width="0.6"/>
<line x1="552.20" y1="269.00" x2="557.40" y2="269.00" stroke="#3a3a3a" stroke-width="0.6"/>
<circle cx="555.00" cy="261.00" r="1.38" fill="#0e968c" stroke="#062e2b" stroke-width="0.85"/>
<circle cx="551.30" cy="268.70" r="1.38" fill="#0e968c" stroke="#062e2b" stroke-width="0.85"/>
<circle cx="558.00" cy="268.20" r="1.38" fill="#0e968c" stroke="#062e2b" stroke-width="0.85"/>
<line x1="564.80" y1="239.30" x2="574.00" y2="239.30" stroke="#3a3a3a" stroke-width="0.6"/>
<line x1="569.40" y1="232.80" x2="569.40" y2="245.30" stroke="#3a3a3a" stroke-width="0.6"/>
<line x1="566.80" y1="232.80" x2="572.00" y2="232.80" stroke="#3a3a3a" stroke-width="0.6"/>
<line x1="566.80" y1="245.30" x2="572.00" y2="245.30" stroke="#3a3a3a" stroke-width="0.6"/>
<rect x="567.90" y="214.50" width="3.0" height="3.0" fill="#fa309b" stroke="#3f0626" stroke-width="0.85"/>
<rect x="567.90" y="236.50" width="3.0" height="3.0" fill="#fa309b" stroke="#3f0626" stroke-width="0.85"/>
<rect x="567.90" y="239.00" width="3.0" height="3.0" fill="#fa309b" stroke="#3f0626" stroke-width="0.85"/>
<rect x="567.90" y="246.20" width="3.0" height="3.0" fill="#fa309b" stroke="#3f0626" stroke-width="0.85"/>
<rect x="567.90" y="256.30" width="3.0" height="3.0" fill="#fa309b" stroke="#3f0626" stroke-width="0.85"/>
<circle cx="597.20" cy="247.70" r="1.5" fill="#000"/>
<text x="605.20" y="249.50" font-size="5.1" stroke="#000" stroke-width="0.16">PBS</text>
<circle cx="597.20" cy="256.90" r="1.4" fill="#0e968c" stroke="#062e2b" stroke-width="0.85"/>
<text x="605.20" y="258.60" font-size="5.1" stroke="#000" stroke-width="0.16">VSVΔ51-HER2T + VV-Ctrl-TCE</text>
<rect x="595.70" y="264.40" width="3.0" height="3.0" fill="#fa309b" stroke="#3f0626" stroke-width="0.85"/>
<text x="605.20" y="267.70" font-size="5.1" stroke="#000" stroke-width="0.16">VSVΔ51-HER2T + VV-αHER2 TCE</text>
<text x="104.20" y="340.00" font-size="10.4" font-weight="bold" text-anchor="middle" stroke="#000" stroke-width="0.14">CD3+ T-cells</text>
<line x1="51.10" y1="362.77" x2="51.10" y2="437.03" stroke="#000" stroke-width="0.85"/>
<line x1="47.70" y1="363.20" x2="51.10" y2="363.20" stroke="#000" stroke-width="0.85"/>
<text x="47.30" y="364.71" font-size="4.2" font-weight="bold" text-anchor="end" stroke="#000" stroke-width="0.17">1500</text>
<line x1="47.70" y1="387.60" x2="51.10" y2="387.60" stroke="#000" stroke-width="0.85"/>
<text x="47.30" y="389.11" font-size="4.2" font-weight="bold" text-anchor="end" stroke="#000" stroke-width="0.17">1000</text>
<line x1="47.70" y1="412.10" x2="51.10" y2="412.10" stroke="#000" stroke-width="0.85"/>
<text x="47.30" y="413.61" font-size="4.2" font-weight="bold" text-anchor="end" stroke="#000" stroke-width="0.17">500</text>
<line x1="47.70" y1="436.60" x2="51.10" y2="436.60" stroke="#000" stroke-width="0.85"/>
<text x="47.30" y="438.11" font-size="4.2" font-weight="bold" text-anchor="end" stroke="#000" stroke-width="0.17">0</text>
<line x1="50.70" y1="436.60" x2="173.50" y2="436.60" stroke="#000" stroke-width="0.85"/>
<text x="35.90" y="399.80" font-size="4.6" font-weight="bold" text-anchor="middle" stroke="#000" stroke-width="0.17" transform="rotate(-90 35.90 399.80)">CXCR3 (MFI)</text>
<line x1="75.40" y1="436.60" x2="75.40" y2="439.60" stroke="#000" stroke-width="0.85"/>
<text x="76.70" y="443.00" font-size="4.35" font-weight="bold" text-anchor="end" stroke="#000" stroke-width="0.17" transform="rotate(-45 76.70 443.00)">PBS</text>
<line x1="112.60" y1="436.60" x2="112.60" y2="439.60" stroke="#000" stroke-width="0.85"/>
<text x="113.90" y="443.00" font-size="4.35" font-weight="bold" text-anchor="end" stroke="#000" stroke-width="0.17" transform="rotate(-45 113.90 443.00)">VSVΔ51-HER2T + VV-Ctrl-TCE</text>
<line x1="149.60" y1="436.60" x2="149.60" y2="439.60" stroke="#000" stroke-width="0.85"/>
<text x="150.90" y="443.00" font-size="4.35" font-weight="bold" text-anchor="end" stroke="#000" stroke-width="0.17" transform="rotate(-45 150.90 443.00)">VSVΔ51-HER2T + VV-αHER2 TCE</text>
<path d="M75.40 366.20V362.40H149.60V366.20" fill="none" stroke="#222" stroke-width="0.8"/>
<text x="112.50" y="359.50" font-size="4.46" text-anchor="middle" fill="#111" stroke="#111" stroke-width="0.15">p = 0.0012</text>
<path d="M112.60 378.00V374.40H149.60V378.00" fill="none" stroke="#222" stroke-width="0.8"/>
<text x="131.10" y="371.50" font-size="4.46" text-anchor="middle" fill="#111" stroke="#111" stroke-width="0.15">p = 0.0003</text>
<path d="M75.7 398.9L76.6 400.6L82 400.9L87.9 401.6L84 402.6L86.5 403.8L79 404.3L76.4 404.4L75.7 405.9L75 404.4L70 404.4L65.5 403.6L67 402.4L63.4 401.4L69 400.9L74.8 400.6Z" fill="#c8c8c8" stroke="#000" stroke-width="1.1" stroke-linejoin="round"/>
<circle cx="66.80" cy="401.60" r="1.45" fill="#000"/>
<circle cx="70.60" cy="402.80" r="1.45" fill="#000"/>
<circle cx="80.40" cy="402.90" r="1.45" fill="#000"/>
<circle cx="84.40" cy="402.00" r="1.45" fill="#000"/>
<circle cx="72.60" cy="401.50" r="1.45" fill="#000"/>
<path d="M112.55 391.40C112.69 391.87 112.49 393.37 113.40 394.20C114.31 395.03 116.60 395.68 118.00 396.40C119.40 397.12 121.62 397.78 121.80 398.50C121.98 399.22 119.87 400.02 119.10 400.70C118.33 401.38 116.93 401.95 117.20 402.60C117.47 403.25 119.43 403.82 120.70 404.60C121.97 405.38 124.62 406.48 124.80 407.30C124.98 408.12 123.12 408.77 121.80 409.50C120.48 410.23 118.23 411.07 116.90 411.70C115.57 412.33 114.53 412.63 113.80 413.30C113.07 413.97 112.76 415.30 112.55 415.70C112.24 415.30 111.93 413.97 111.20 413.30C110.47 412.63 109.43 412.33 108.10 411.70C106.77 411.07 104.52 410.23 103.20 409.50C101.88 408.77 100.02 408.12 100.20 407.30C100.38 406.48 103.03 405.38 104.30 404.60C105.57 403.82 107.53 403.25 107.80 402.60C108.07 401.95 106.67 401.38 105.90 400.70C105.13 400.02 103.02 399.22 103.20 398.50C103.38 397.78 105.60 397.12 107.00 396.40C108.40 395.68 110.69 395.03 111.60 394.20C112.51 393.37 112.31 391.87 112.45 391.40Z" fill="#c8c8c8" stroke="#1fa79b" stroke-width="1.2" stroke-linejoin="round"/>
<line x1="100.70" y1="407.30" x2="124.30" y2="407.30" stroke="#444" stroke-width="0.4" stroke-dasharray="1.2 0.6"/>
<circle cx="109.60" cy="398.30" r="1.38" fill="#0e968c" stroke="#062e2b" stroke-width="0.85"/>
<circle cx="115.50" cy="398.90" r="1.38" fill="#0e968c" stroke="#062e2b" stroke-width="0.85"/>
<circle cx="112.50" cy="406.80" r="1.38" fill="#0e968c" stroke="#062e2b" stroke-width="0.85"/>
<circle cx="107.00" cy="409.30" r="1.38" fill="#0e968c" stroke="#062e2b" stroke-width="0.85"/>
<circle cx="118.30" cy="407.10" r="1.38" fill="#0e968c" stroke="#062e2b" stroke-width="0.85"/>
<path d="M149.55 381.00C149.73 381.47 149.69 383.07 150.60 383.80C151.51 384.53 153.90 384.82 155.00 385.40C156.10 385.98 156.75 386.67 157.20 387.30C157.65 387.93 157.33 388.60 157.70 389.20C158.07 389.80 158.72 390.28 159.40 390.90C160.08 391.52 161.90 392.27 161.80 392.90C161.70 393.53 160.03 394.03 158.80 394.70C157.57 395.37 155.68 396.20 154.40 396.90C153.12 397.60 151.91 398.12 151.10 398.90C150.29 399.68 149.81 401.15 149.55 401.60C149.19 401.15 148.71 399.68 147.90 398.90C147.09 398.12 145.88 397.60 144.60 396.90C143.32 396.20 141.43 395.37 140.20 394.70C138.97 394.03 137.30 393.53 137.20 392.90C137.10 392.27 138.92 391.52 139.60 390.90C140.28 390.28 140.93 389.80 141.30 389.20C141.67 388.60 141.35 387.93 141.80 387.30C142.25 386.67 142.90 385.98 144.00 385.40C145.10 384.82 147.49 384.53 148.40 383.80C149.31 383.07 149.27 381.47 149.45 381.00Z" fill="#c8c8c8" stroke="#f5317f" stroke-width="1.2" stroke-linejoin="round"/>
<line x1="137.70" y1="392.90" x2="161.30" y2="392.90" stroke="#555" stroke-width="0.4" stroke-dasharray="1.2 0.6"/>
<rect x="145.00" y="384.80" width="3.0" height="3.0" fill="#fa309b" stroke="#3f0626" stroke-width="0.85"/>
<rect x="150.80" y="387.50" width="3.0" height="3.0" fill="#fa309b" stroke="#3f0626" stroke-width="0.85"/>
<rect x="145.00" y="391.20" width="3.0" height="3.0" fill="#fa309b" stroke="#3f0626" stroke-width="0.85"/>
<rect x="150.80" y="391.80" width="3.0" height="3.0" fill="#fa309b" stroke="#3f0626" stroke-width="0.85"/>
<rect x="147.90" y="394.60" width="3.0" height="3.0" fill="#fa309b" stroke="#3f0626" stroke-width="0.85"/>
<line x1="239.30" y1="358.90" x2="239.30" y2="440.40" stroke="#000" stroke-width="1.0"/>
<line x1="236.00" y1="359.40" x2="239.30" y2="359.40" stroke="#000" stroke-width="1.0"/>
<text x="235.30" y="361.13" font-size="4.8" font-weight="bold" text-anchor="end" stroke="#000" stroke-width="0.17">15</text>
<line x1="236.00" y1="386.40" x2="239.30" y2="386.40" stroke="#000" stroke-width="1.0"/>
<text x="235.30" y="388.13" font-size="4.8" font-weight="bold" text-anchor="end" stroke="#000" stroke-width="0.17">10</text>
<line x1="236.00" y1="413.10" x2="239.30" y2="413.10" stroke="#000" stroke-width="1.0"/>
<text x="235.30" y="414.83" font-size="4.8" font-weight="bold" text-anchor="end" stroke="#000" stroke-width="0.17">5</text>
<line x1="236.00" y1="439.90" x2="239.30" y2="439.90" stroke="#000" stroke-width="1.0"/>
<text x="235.30" y="441.63" font-size="4.8" font-weight="bold" text-anchor="end" stroke="#000" stroke-width="0.17">0</text>
<line x1="238.80" y1="439.90" x2="374.30" y2="439.90" stroke="#000" stroke-width="1.0"/>
<text x="221.30" y="399.60" font-size="4.95" font-weight="bold" text-anchor="middle" stroke="#000" stroke-width="0.17" transform="rotate(-90 221.30 399.60)">Frequency of CD3+PD1+LAG3+</text>
<text x="228.30" y="399.60" font-size="4.95" font-weight="bold" text-anchor="middle" stroke="#000" stroke-width="0.17" transform="rotate(-90 228.30 399.60)">(% of total CD45+ cells)</text>
<line x1="266.20" y1="439.90" x2="266.20" y2="443.20" stroke="#000" stroke-width="1.0"/>
<text x="267.60" y="447.00" font-size="4.85" font-weight="bold" text-anchor="end" stroke="#000" stroke-width="0.17" transform="rotate(-45 267.60 447.00)">PBS</text>
<line x1="306.60" y1="439.90" x2="306.60" y2="443.20" stroke="#000" stroke-width="1.0"/>
<text x="308.00" y="447.00" font-size="4.85" font-weight="bold" text-anchor="end" stroke="#000" stroke-width="0.17" transform="rotate(-45 308.00 447.00)">VSVΔ51-HER2T + VV-Ctrl-TCE</text>
<line x1="347.30" y1="439.90" x2="347.30" y2="443.20" stroke="#000" stroke-width="1.0"/>
<text x="348.70" y="447.00" font-size="4.85" font-weight="bold" text-anchor="end" stroke="#000" stroke-width="0.17" transform="rotate(-45 348.70 447.00)">VSVΔ51-HER2T + VV-αHER2 TCE</text>
<path d="M266.20 356.70V352.90H347.30V356.70" fill="none" stroke="#333" stroke-width="0.85"/>
<text x="306.75" y="349.50" font-size="4.9" text-anchor="middle" fill="#111" stroke="#111" stroke-width="0.16">p = 0.0009</text>
<path d="M306.60 370.00V366.20H347.30V370.00" fill="none" stroke="#333" stroke-width="0.85"/>
<text x="326.95" y="363.00" font-size="4.9" text-anchor="middle" fill="#111" stroke="#111" stroke-width="0.16">p = 0.0131</text>
<path d="M266.35 386.90C266.49 387.50 266.54 389.45 267.20 390.50C267.86 391.55 268.93 392.13 270.30 393.20C271.67 394.27 273.85 395.52 275.40 396.90C276.95 398.28 279.75 400.13 279.60 401.50C279.45 402.87 276.05 403.98 274.50 405.10C272.95 406.22 270.75 407.13 270.30 408.20C269.85 409.27 271.50 410.50 271.80 411.50C272.10 412.50 272.47 413.13 272.10 414.20C271.73 415.27 270.42 416.83 269.60 417.90C268.78 418.97 267.74 419.68 267.20 420.60C266.66 421.52 266.49 422.93 266.35 423.40C266.11 422.93 265.94 421.52 265.40 420.60C264.86 419.68 263.82 418.97 263.00 417.90C262.18 416.83 260.87 415.27 260.50 414.20C260.13 413.13 260.50 412.50 260.80 411.50C261.10 410.50 262.75 409.27 262.30 408.20C261.85 407.13 259.65 406.22 258.10 405.10C256.55 403.98 253.15 402.87 253.00 401.50C252.85 400.13 255.65 398.28 257.20 396.90C258.75 395.52 260.93 394.27 262.30 393.20C263.67 392.13 264.74 391.55 265.40 390.50C266.06 389.45 266.11 387.50 266.25 386.90Z" fill="#c8c8c8" stroke="#000" stroke-width="1.2" stroke-linejoin="round"/>
<line x1="255.90" y1="398.70" x2="276.70" y2="398.70" stroke="#888" stroke-width="0.4"/>
<line x1="253.50" y1="401.50" x2="279.10" y2="401.50" stroke="#444" stroke-width="0.5"/>
<circle cx="266.35" cy="396.00" r="1.58" fill="#000"/>
<circle cx="263.20" cy="401.50" r="1.58" fill="#000"/>
<circle cx="269.60" cy="401.10" r="1.58" fill="#000"/>
<circle cx="266.35" cy="404.20" r="1.58" fill="#000"/>
<circle cx="266.35" cy="413.90" r="1.58" fill="#000"/>
<path d="M306.55 381.90C306.66 382.73 306.54 385.47 307.20 386.90C307.86 388.33 309.55 389.28 310.50 390.50C311.45 391.72 312.42 392.83 312.90 394.20C313.38 395.57 313.32 397.03 313.40 398.70C313.48 400.37 313.08 402.52 313.40 404.20C313.72 405.88 314.47 407.28 315.30 408.80C316.13 410.32 317.58 411.78 318.40 413.30C319.22 414.82 320.37 416.53 320.20 417.90C320.03 419.27 318.77 420.28 317.40 421.50C316.03 422.72 313.57 423.98 312.00 425.20C310.43 426.42 308.91 427.28 308.00 428.80C307.09 430.32 306.79 433.38 306.55 434.30C306.21 433.38 305.91 430.32 305.00 428.80C304.09 427.28 302.57 426.42 301.00 425.20C299.43 423.98 296.97 422.72 295.60 421.50C294.23 420.28 292.97 419.27 292.80 417.90C292.63 416.53 293.78 414.82 294.60 413.30C295.42 411.78 296.87 410.32 297.70 408.80C298.53 407.28 299.28 405.88 299.60 404.20C299.92 402.52 299.52 400.37 299.60 398.70C299.68 397.03 299.62 395.57 300.10 394.20C300.58 392.83 301.55 391.72 302.50 390.50C303.45 389.28 305.14 388.33 305.80 386.90C306.46 385.47 306.34 382.73 306.45 381.90Z" fill="#c8c8c8" stroke="#1fa79b" stroke-width="1.2" stroke-linejoin="round"/>
<line x1="299.90" y1="400.20" x2="313.10" y2="400.20" stroke="#7fb5b0" stroke-width="0.4"/>
<line x1="294.70" y1="413.90" x2="318.30" y2="413.90" stroke="#444" stroke-width="0.4" stroke-dasharray="1.2 0.6"/>
<line x1="293.50" y1="419.30" x2="319.50" y2="419.30" stroke="#7fb5b0" stroke-width="0.4"/>
<circle cx="306.90" cy="396.00" r="1.38" fill="#0e968c" stroke="#062e2b" stroke-width="0.85"/>
<circle cx="306.90" cy="404.20" r="1.38" fill="#0e968c" stroke="#062e2b" stroke-width="0.85"/>
<circle cx="306.50" cy="413.90" r="1.38" fill="#0e968c" stroke="#062e2b" stroke-width="0.85"/>
<circle cx="303.40" cy="420.30" r="1.38" fill="#0e968c" stroke="#062e2b" stroke-width="0.85"/>
<circle cx="310.10" cy="418.80" r="1.38" fill="#0e968c" stroke="#062e2b" stroke-width="0.85"/>
<path d="M347.25 411.50C347.39 412.05 347.26 413.95 348.10 414.80C348.94 415.65 351.38 415.93 352.30 416.60C353.22 417.27 353.23 418.07 353.60 418.80C353.97 419.53 353.90 420.33 354.50 421.00C355.10 421.67 356.20 422.02 357.20 422.80C358.20 423.58 360.18 424.70 360.50 425.70C360.82 426.70 359.95 427.82 359.10 428.80C358.25 429.78 356.72 430.68 355.40 431.60C354.08 432.52 352.42 433.40 351.20 434.30C349.98 435.20 348.76 436.18 348.10 437.00C347.44 437.82 347.39 438.83 347.25 439.20C347.01 438.83 346.96 437.82 346.30 437.00C345.64 436.18 344.42 435.20 343.20 434.30C341.98 433.40 340.32 432.52 339.00 431.60C337.68 430.68 336.15 429.78 335.30 428.80C334.45 427.82 333.58 426.70 333.90 425.70C334.22 424.70 336.20 423.58 337.20 422.80C338.20 422.02 339.30 421.67 339.90 421.00C340.50 420.33 340.43 419.53 340.80 418.80C341.17 418.07 341.18 417.27 342.10 416.60C343.02 415.93 345.46 415.65 346.30 414.80C347.14 413.95 347.01 412.05 347.15 411.50Z" fill="#c8c8c8" stroke="#f5317f" stroke-width="1.2" stroke-linejoin="round"/>
<line x1="334.40" y1="425.70" x2="360.00" y2="425.70" stroke="#555" stroke-width="0.4" stroke-dasharray="1.2 0.6"/>
<line x1="337.60" y1="430.40" x2="356.80" y2="430.40" stroke="#d99" stroke-width="0.4"/>
<rect x="345.70" y="417.30" width="3.0" height="3.0" fill="#fa309b" stroke="#3f0626" stroke-width="0.85"/>
<rect x="342.40" y="424.20" width="3.0" height="3.0" fill="#fa309b" stroke="#3f0626" stroke-width="0.85"/>
<rect x="348.80" y="423.30" width="3.0" height="3.0" fill="#fa309b" stroke="#3f0626" stroke-width="0.85"/>
<rect x="348.80" y="427.90" width="3.0" height="3.0" fill="#fa309b" stroke="#3f0626" stroke-width="0.85"/>
<rect x="342.40" y="431.00" width="3.0" height="3.0" fill="#fa309b" stroke="#3f0626" stroke-width="0.85"/>
<line x1="448.50" y1="361.10" x2="448.50" y2="444.60" stroke="#000" stroke-width="1.0"/>
<line x1="445.20" y1="361.60" x2="448.50" y2="361.60" stroke="#000" stroke-width="1.0"/>
<text x="444.50" y="363.33" font-size="4.8" font-weight="bold" text-anchor="end" stroke="#000" stroke-width="0.17">0.25</text>
<line x1="445.20" y1="378.10" x2="448.50" y2="378.10" stroke="#000" stroke-width="1.0"/>
<text x="444.50" y="379.83" font-size="4.8" font-weight="bold" text-anchor="end" stroke="#000" stroke-width="0.17">0.20</text>
<line x1="445.20" y1="394.60" x2="448.50" y2="394.60" stroke="#000" stroke-width="1.0"/>
<text x="444.50" y="396.33" font-size="4.8" font-weight="bold" text-anchor="end" stroke="#000" stroke-width="0.17">0.15</text>
<line x1="445.20" y1="411.10" x2="448.50" y2="411.10" stroke="#000" stroke-width="1.0"/>
<text x="444.50" y="412.83" font-size="4.8" font-weight="bold" text-anchor="end" stroke="#000" stroke-width="0.17">0.10</text>
<line x1="445.20" y1="427.60" x2="448.50" y2="427.60" stroke="#000" stroke-width="1.0"/>
<text x="444.50" y="429.33" font-size="4.8" font-weight="bold" text-anchor="end" stroke="#000" stroke-width="0.17">0.05</text>
<line x1="445.20" y1="444.10" x2="448.50" y2="444.10" stroke="#000" stroke-width="1.0"/>
<text x="444.50" y="445.83" font-size="4.8" font-weight="bold" text-anchor="end" stroke="#000" stroke-width="0.17">0.00</text>
<text x="425.90" y="402.80" font-size="5.07" font-weight="bold" text-anchor="middle" stroke="#000" stroke-width="0.17" transform="rotate(-90 425.90 402.80)">CTLA4+ Treg</text>
<text x="432.10" y="402.80" font-size="5.07" font-weight="bold" text-anchor="middle" stroke="#000" stroke-width="0.17" transform="rotate(-90 432.10 402.80)">(% of total CD45+)</text>
<line x1="475.90" y1="444.10" x2="475.90" y2="447.40" stroke="#000" stroke-width="1.0"/>
<text x="477.30" y="451.20" font-size="4.85" font-weight="bold" text-anchor="end" stroke="#000" stroke-width="0.17" transform="rotate(-45 477.30 451.20)">PBS</text>
<line x1="517.60" y1="444.10" x2="517.60" y2="447.40" stroke="#000" stroke-width="1.0"/>
<text x="519.00" y="451.20" font-size="4.85" font-weight="bold" text-anchor="end" stroke="#000" stroke-width="0.17" transform="rotate(-45 519.00 451.20)">VSVΔ51-HER2T + VV-Ctrl-TCE</text>
<line x1="559.30" y1="444.10" x2="559.30" y2="447.40" stroke="#000" stroke-width="1.0"/>
<text x="560.70" y="451.20" font-size="4.85" font-weight="bold" text-anchor="end" stroke="#000" stroke-width="0.17" transform="rotate(-45 560.70 451.20)">VSVΔ51-HER2T + VV-αHER2 TCE</text>
<path d="M475.90 353.40V349.40H559.30V353.40" fill="none" stroke="#333" stroke-width="0.85"/>
<text x="517.60" y="346.60" font-size="5.1" text-anchor="middle" fill="#111" stroke="#111" stroke-width="0.16">p = 0.0025</text>
<path d="M517.60 367.50V363.70H559.30V367.50" fill="none" stroke="#333" stroke-width="0.85"/>
<text x="538.45" y="360.30" font-size="5.1" text-anchor="middle" fill="#111" stroke="#111" stroke-width="0.16">p = 0.0397</text>
<path d="M476.05 370.80C476.13 371.82 476.11 375.43 476.55 376.90C476.99 378.37 477.57 378.55 478.70 379.60C479.82 380.65 481.87 381.83 483.30 383.20C484.73 384.57 486.38 386.27 487.30 387.80C488.22 389.33 488.62 390.73 488.80 392.40C488.98 394.07 488.35 396.28 488.40 397.80C488.45 399.32 488.85 400.22 489.10 401.50C489.35 402.78 490.02 404.13 489.90 405.50C489.78 406.87 489.20 408.23 488.40 409.70C487.60 411.17 485.88 412.87 485.10 414.30C484.32 415.73 483.88 416.93 483.70 418.30C483.52 419.67 483.98 421.20 484.00 422.50C484.02 423.80 484.28 424.73 483.80 426.10C483.32 427.47 482.10 429.33 481.10 430.70C480.10 432.07 478.56 433.23 477.80 434.30C477.04 435.37 476.84 435.45 476.55 437.10C476.26 438.75 476.13 443.02 476.05 444.20C475.87 443.02 475.74 438.75 475.45 437.10C475.16 435.45 474.96 435.37 474.20 434.30C473.44 433.23 471.90 432.07 470.90 430.70C469.90 429.33 468.68 427.47 468.20 426.10C467.72 424.73 467.98 423.80 468.00 422.50C468.02 421.20 468.48 419.67 468.30 418.30C468.12 416.93 467.68 415.73 466.90 414.30C466.12 412.87 464.40 411.17 463.60 409.70C462.80 408.23 462.22 406.87 462.10 405.50C461.98 404.13 462.65 402.78 462.90 401.50C463.15 400.22 463.55 399.32 463.60 397.80C463.65 396.28 463.02 394.07 463.20 392.40C463.38 390.73 463.78 389.33 464.70 387.80C465.62 386.27 467.27 384.57 468.70 383.20C470.13 381.83 472.18 380.65 473.30 379.60C474.43 378.55 475.01 378.37 475.45 376.90C475.89 375.43 475.87 371.82 475.95 370.80Z" fill="#c8c8c8" stroke="#000" stroke-width="1.2" stroke-linejoin="round"/>
<line x1="463.60" y1="392.40" x2="488.40" y2="392.40" stroke="#8a8a8a" stroke-width="0.6"/>
<line x1="462.50" y1="405.50" x2="489.50" y2="405.50" stroke="#333" stroke-width="0.5" stroke-dasharray="1.2 0.6"/>
<line x1="468.60" y1="417.90" x2="483.40" y2="417.90" stroke="#8a8a8a" stroke-width="0.6"/>
<circle cx="476.00" cy="389.60" r="1.58" fill="#000"/>
<circle cx="476.00" cy="396.00" r="1.58" fill="#000"/>
<circle cx="476.00" cy="405.50" r="1.58" fill="#000"/>
<circle cx="476.00" cy="410.60" r="1.58" fill="#000"/>
<circle cx="476.00" cy="425.20" r="1.58" fill="#000"/>
<path d="M517.65 375.90C517.76 376.97 517.76 380.62 518.30 382.30C518.84 383.98 520.10 384.78 520.90 386.00C521.70 387.22 522.58 388.23 523.10 389.60C523.62 390.97 524.15 392.67 524.00 394.20C523.85 395.73 522.90 397.43 522.20 398.80C521.50 400.17 520.12 401.18 519.80 402.40C519.48 403.62 519.45 404.88 520.30 406.10C521.15 407.32 523.47 408.48 524.90 409.70C526.33 410.92 527.90 412.03 528.90 413.40C529.90 414.77 530.50 416.53 530.90 417.90C531.30 419.27 531.38 420.23 531.30 421.60C531.22 422.97 531.17 424.58 530.40 426.10C529.63 427.62 528.17 429.17 526.70 430.70C525.23 432.23 522.93 433.93 521.60 435.30C520.27 436.67 519.36 437.42 518.70 438.90C518.04 440.38 517.83 443.32 517.65 444.20C517.38 443.32 517.16 440.38 516.50 438.90C515.84 437.42 514.93 436.67 513.60 435.30C512.27 433.93 509.97 432.23 508.50 430.70C507.03 429.17 505.57 427.62 504.80 426.10C504.03 424.58 503.98 422.97 503.90 421.60C503.82 420.23 503.90 419.27 504.30 417.90C504.70 416.53 505.30 414.77 506.30 413.40C507.30 412.03 508.87 410.92 510.30 409.70C511.73 408.48 514.05 407.32 514.90 406.10C515.75 404.88 515.72 403.62 515.40 402.40C515.08 401.18 513.70 400.17 513.00 398.80C512.30 397.43 511.35 395.73 511.20 394.20C511.05 392.67 511.58 390.97 512.10 389.60C512.62 388.23 513.50 387.22 514.30 386.00C515.10 384.78 516.36 383.98 516.90 382.30C517.44 380.62 517.44 376.97 517.55 375.90Z" fill="#c8c8c8" stroke="#1fa79b" stroke-width="1.2" stroke-linejoin="round"/>
<line x1="504.60" y1="417.60" x2="530.60" y2="417.60" stroke="#333" stroke-width="0.5" stroke-dasharray="1.2 0.6"/>
<line x1="505.60" y1="427.60" x2="529.60" y2="427.60" stroke="#7fb5b0" stroke-width="0.4"/>
<circle cx="517.60" cy="394.20" r="1.38" fill="#0e968c" stroke="#062e2b" stroke-width="0.85"/>
<circle cx="514.30" cy="417.60" r="1.38" fill="#0e968c" stroke="#062e2b" stroke-width="0.85"/>
<circle cx="520.70" cy="417.00" r="1.38" fill="#0e968c" stroke="#062e2b" stroke-width="0.85"/>
<circle cx="514.30" cy="428.50" r="1.38" fill="#0e968c" stroke="#062e2b" stroke-width="0.85"/>
<circle cx="520.70" cy="426.10" r="1.38" fill="#0e968c" stroke="#062e2b" stroke-width="0.85"/>
<path d="M559.05 422.50C559.29 423.07 559.17 425.08 560.50 425.90C561.83 426.72 565.32 426.95 567.00 427.40C568.68 427.85 569.80 428.20 570.60 428.60C571.40 429.00 571.87 429.37 571.80 429.80C571.73 430.23 571.00 430.73 570.20 431.20C569.40 431.67 567.80 432.17 567.00 432.60C566.20 433.03 565.30 433.40 565.40 433.80C565.50 434.20 566.63 434.57 567.60 435.00C568.57 435.43 570.35 435.90 571.20 436.40C572.05 436.90 572.57 437.43 572.70 438.00C572.83 438.57 572.62 439.20 572.00 439.80C571.38 440.40 570.33 441.05 569.00 441.60C567.67 442.15 565.66 442.67 564.00 443.10C562.34 443.53 559.88 444.02 559.05 444.20C558.12 444.02 555.66 443.53 554.00 443.10C552.34 442.67 550.33 442.15 549.00 441.60C547.67 441.05 546.62 440.40 546.00 439.80C545.38 439.20 545.17 438.57 545.30 438.00C545.43 437.43 545.95 436.90 546.80 436.40C547.65 435.90 549.43 435.43 550.40 435.00C551.37 434.57 552.50 434.20 552.60 433.80C552.70 433.40 551.80 433.03 551.00 432.60C550.20 432.17 548.60 431.67 547.80 431.20C547.00 430.73 546.27 430.23 546.20 429.80C546.13 429.37 546.60 429.00 547.40 428.60C548.20 428.20 549.32 427.85 551.00 427.40C552.68 426.95 556.17 426.72 557.50 425.90C558.83 425.08 558.71 423.07 558.95 422.50Z" fill="#c8c8c8" stroke="#f5317f" stroke-width="1.2" stroke-linejoin="round"/>
<line x1="545.80" y1="438.00" x2="572.20" y2="438.00" stroke="#555" stroke-width="0.4" stroke-dasharray="1.2 0.6"/>
<rect x="554.40" y="427.90" width="3.0" height="3.0" fill="#fa309b" stroke="#3f0626" stroke-width="0.85"/>
<rect x="560.80" y="429.20" width="3.0" height="3.0" fill="#fa309b" stroke="#3f0626" stroke-width="0.85"/>
<rect x="554.40" y="436.50" width="3.0" height="3.0" fill="#fa309b" stroke="#3f0626" stroke-width="0.85"/>
<rect x="560.80" y="437.40" width="3.0" height="3.0" fill="#fa309b" stroke="#3f0626" stroke-width="0.85"/>
<rect x="557.50" y="440.90" width="3.0" height="3.0" fill="#fa309b" stroke="#3f0626" stroke-width="0.85"/>
<line x1="448.00" y1="444.10" x2="587.30" y2="444.10" stroke="#000" stroke-width="1.0"/>
<text x="139.00" y="526.00" font-size="7.9" text-anchor="middle" stroke="#000" stroke-width="0.20">Virus co-injections</text>
<text x="139.00" y="535.00" font-size="7.9" text-anchor="middle" stroke="#000" stroke-width="0.20">(<tspan fill="#f5317f" stroke="#f5317f" stroke-width="0.12" font-weight="bold">VSVΔ51 1E8 PFU +</tspan></text>
<text x="139.00" y="543.80" font-size="7.9" text-anchor="middle" stroke="#000" stroke-width="0.20"><tspan fill="#f5317f" stroke="#f5317f" stroke-width="0.12" font-weight="bold">VV 1E7 PFU i.t.</tspan>)</text>
<polygon points="127.50,550.20 136.10,550.20 131.80,557.90" fill="#f5317f"/>
<polygon points="145.50,550.20 154.10,550.20 149.80,557.90" fill="#f5317f"/>
<text x="63.70" y="558.70" font-size="7.9" stroke="#000" stroke-width="0.20">Day 0</text>
<line x1="79.20" y1="562.60" x2="284.90" y2="562.60" stroke="#000" stroke-width="1.3"/>
<polygon points="78.40,573.40 86.60,573.40 82.50,565.40" fill="#000"/>
<polygon points="201.30,574.60 209.50,574.60 205.40,566.60" fill="#000"/>
<polygon points="280.20,574.60 288.40,574.60 284.30,566.60" fill="#000"/>
<text x="132.80" y="573.40" font-size="7.9" text-anchor="middle" stroke="#000" stroke-width="0.20">11</text>
<text x="147.80" y="573.40" font-size="7.9" text-anchor="middle" stroke="#000" stroke-width="0.20">12</text>
<text x="81.80" y="586.10" font-size="7.9" text-anchor="middle" stroke="#000" stroke-width="0.20">CT26 Cell implantation</text>
<text x="81.80" y="595.90" font-size="7.9" font-weight="bold" text-anchor="middle" stroke="#000" stroke-width="0.12">(5E5 cells s.c.)</text>
<text x="205.50" y="526.00" font-size="7.9" text-anchor="middle" stroke="#000" stroke-width="0.20">D7</text>
<text x="205.50" y="534.90" font-size="7.9" text-anchor="middle" stroke="#000" stroke-width="0.20">post-</text>
<text x="205.50" y="543.80" font-size="7.9" text-anchor="middle" stroke="#000" stroke-width="0.20">treatment</text>
<text x="205.50" y="558.70" font-size="7.9" text-anchor="middle" stroke="#000" stroke-width="0.20">19</text>
<text x="284.00" y="526.00" font-size="7.9" text-anchor="middle" stroke="#000" stroke-width="0.20">D14</text>
<text x="284.00" y="534.90" font-size="7.9" text-anchor="middle" stroke="#000" stroke-width="0.20">post-</text>
<text x="284.00" y="543.80" font-size="7.9" text-anchor="middle" stroke="#000" stroke-width="0.20">treatment</text>
<text x="284.00" y="558.70" font-size="7.9" text-anchor="middle" stroke="#000" stroke-width="0.20">25</text>
<text x="204.30" y="584.90" font-size="7.9" text-anchor="middle" stroke="#000" stroke-width="0.20">Saph. bleed</text>
<text x="285.00" y="584.90" font-size="7.9" text-anchor="middle" stroke="#000" stroke-width="0.20">Harvest spleens, collect</text>
<text x="284.80" y="593.70" font-size="7.9" text-anchor="middle" stroke="#000" stroke-width="0.20">peripheral blood</text>
<text x="83.20" y="677.10" font-size="10.4" font-weight="bold" text-anchor="middle" stroke="#000" stroke-width="0.14">gp70</text>
<line x1="24.90" y1="742.00" x2="24.90" y2="843.40" stroke="#000" stroke-width="1.0"/>
<line x1="21.70" y1="742.50" x2="24.90" y2="742.50" stroke="#000" stroke-width="1.0"/>
<text x="20.90" y="744.26" font-size="4.9" font-weight="bold" text-anchor="end" stroke="#000" stroke-width="0.17">1000</text>
<line x1="21.70" y1="762.58" x2="24.90" y2="762.58" stroke="#000" stroke-width="1.0"/>
<text x="20.90" y="764.34" font-size="4.9" font-weight="bold" text-anchor="end" stroke="#000" stroke-width="0.17">800</text>
<line x1="21.70" y1="782.66" x2="24.90" y2="782.66" stroke="#000" stroke-width="1.0"/>
<text x="20.90" y="784.42" font-size="4.9" font-weight="bold" text-anchor="end" stroke="#000" stroke-width="0.17">600</text>
<line x1="21.70" y1="802.74" x2="24.90" y2="802.74" stroke="#000" stroke-width="1.0"/>
<text x="20.90" y="804.50" font-size="4.9" font-weight="bold" text-anchor="end" stroke="#000" stroke-width="0.17">400</text>
<line x1="21.70" y1="822.82" x2="24.90" y2="822.82" stroke="#000" stroke-width="1.0"/>
<text x="20.90" y="824.58" font-size="4.9" font-weight="bold" text-anchor="end" stroke="#000" stroke-width="0.17">200</text>
<line x1="21.70" y1="842.90" x2="24.90" y2="842.90" stroke="#000" stroke-width="1.0"/>
<text x="20.90" y="844.66" font-size="4.9" font-weight="bold" text-anchor="end" stroke="#000" stroke-width="0.17">0</text>
<text x="5.40" y="792.70" font-size="5.38" font-weight="bold" text-anchor="middle" stroke="#000" stroke-width="0.17" transform="rotate(-90 5.40 792.70)">IFNγ SFU/10<tspan font-size="3.2" dy="-1.8">6</tspan><tspan dy="1.8"> splenocytes</tspan></text>
<line x1="37.70" y1="842.90" x2="37.70" y2="846.50" stroke="#000" stroke-width="1.0"/>
<text x="38.80" y="850.00" font-size="5.22" font-weight="bold" text-anchor="end" stroke="#000" stroke-width="0.17" transform="rotate(-45 38.80 850.00)">PBS</text>
<line x1="58.20" y1="842.90" x2="58.20" y2="846.50" stroke="#000" stroke-width="1.0"/>
<text x="59.30" y="850.00" font-size="5.22" font-weight="bold" text-anchor="end" stroke="#000" stroke-width="0.17" transform="rotate(-45 59.30 850.00)">VSVΔ51-HER2T</text>
<line x1="78.20" y1="842.90" x2="78.20" y2="846.50" stroke="#000" stroke-width="1.0"/>
<text x="79.30" y="850.00" font-size="5.22" font-weight="bold" text-anchor="end" stroke="#000" stroke-width="0.17" transform="rotate(-45 79.30 850.00)">VV-αHER2-TCE</text>
<line x1="98.70" y1="842.90" x2="98.70" y2="846.50" stroke="#000" stroke-width="1.0"/>
<text x="99.80" y="850.00" font-size="5.22" font-weight="bold" text-anchor="end" stroke="#000" stroke-width="0.17" transform="rotate(-45 99.80 850.00)">VSVΔ51-HER2T + VV-Ctrl-TCE</text>
<line x1="119.40" y1="842.90" x2="119.40" y2="846.50" stroke="#000" stroke-width="1.0"/>
<text x="120.50" y="850.00" font-size="5.22" font-weight="bold" text-anchor="end" stroke="#000" stroke-width="0.17" transform="rotate(-45 120.50 850.00)">VSVΔ51-HER2T + VV-αHER2-TCE</text>
<rect x="51.75" y="839.30" width="12.9" height="3.60" fill="#d9541e" stroke="#000" stroke-width="0.9"/>
<line x1="58.20" y1="836.70" x2="58.20" y2="842.00" stroke="#333" stroke-width="0.5"/>
<line x1="54.90" y1="836.70" x2="61.50" y2="836.70" stroke="#222" stroke-width="0.6"/>
<rect x="71.75" y="841.40" width="12.9" height="1.50" fill="#880e08" stroke="#000" stroke-width="0.9"/>
<line x1="78.20" y1="840.60" x2="78.20" y2="842.20" stroke="#333" stroke-width="0.5"/>
<line x1="74.90" y1="840.60" x2="81.50" y2="840.60" stroke="#222" stroke-width="0.6"/>
<rect x="92.25" y="831.70" width="12.9" height="11.20" fill="#9250cf" stroke="#000" stroke-width="0.9"/>
<line x1="98.70" y1="827.30" x2="98.70" y2="836.00" stroke="#333" stroke-width="0.5"/>
<line x1="95.40" y1="827.30" x2="102.00" y2="827.30" stroke="#222" stroke-width="0.6"/>
<line x1="95.40" y1="836.00" x2="102.00" y2="836.00" stroke="#333" stroke-width="0.5"/>
<rect x="112.95" y="807.30" width="12.9" height="35.60" fill="#698bfb" stroke="#000" stroke-width="0.9"/>
<line x1="119.40" y1="797.80" x2="119.40" y2="816.30" stroke="#333" stroke-width="0.5"/>
<line x1="116.10" y1="797.80" x2="122.70" y2="797.80" stroke="#222" stroke-width="0.6"/>
<line x1="116.10" y1="816.30" x2="122.70" y2="816.30" stroke="#333" stroke-width="0.5"/>
<line x1="24.40" y1="842.90" x2="133.40" y2="842.90" stroke="#000" stroke-width="1.1"/>
<circle cx="32.70" cy="842.40" r="1.45" fill="#fff" stroke="#000" stroke-width="0.7"/>
<circle cx="37.70" cy="838.60" r="1.45" fill="#fff" stroke="#000" stroke-width="0.7"/>
<circle cx="35.40" cy="842.40" r="1.45" fill="#fff" stroke="#000" stroke-width="0.7"/>
<circle cx="40.20" cy="842.40" r="1.45" fill="#fff" stroke="#000" stroke-width="0.7"/>
<circle cx="42.90" cy="842.40" r="1.45" fill="#fff" stroke="#000" stroke-width="0.7"/>
<circle cx="58.20" cy="829.70" r="1.45" fill="#fff" stroke="#000" stroke-width="0.7"/>
<circle cx="53.20" cy="841.60" r="1.45" fill="#fff" stroke="#000" stroke-width="0.7"/>
<circle cx="58.20" cy="841.20" r="1.45" fill="#fff" stroke="#000" stroke-width="0.7"/>
<circle cx="63.20" cy="841.00" r="1.45" fill="#fff" stroke="#000" stroke-width="0.7"/>
<circle cx="60.60" cy="842.00" r="1.45" fill="#fff" stroke="#000" stroke-width="0.7"/>
<circle cx="75.80" cy="838.60" r="1.45" fill="#fff" stroke="#000" stroke-width="0.7"/>
<circle cx="80.90" cy="838.60" r="1.45" fill="#fff" stroke="#000" stroke-width="0.7"/>
<circle cx="73.20" cy="842.40" r="1.45" fill="#fff" stroke="#000" stroke-width="0.7"/>
<circle cx="78.20" cy="842.40" r="1.45" fill="#fff" stroke="#000" stroke-width="0.7"/>
<circle cx="83.20" cy="842.40" r="1.45" fill="#fff" stroke="#000" stroke-width="0.7"/>
<circle cx="98.90" cy="818.80" r="1.45" fill="#fff" stroke="#000" stroke-width="0.7"/>
<circle cx="98.90" cy="827.70" r="1.45" fill="#fff" stroke="#000" stroke-width="0.7"/>
<circle cx="98.90" cy="833.60" r="1.45" fill="#fff" stroke="#000" stroke-width="0.7"/>
<circle cx="96.30" cy="839.40" r="1.45" fill="#fff" stroke="#000" stroke-width="0.7"/>
<circle cx="101.70" cy="838.30" r="1.45" fill="#fff" stroke="#000" stroke-width="0.7"/>
<circle cx="119.40" cy="777.20" r="1.45" fill="#fff" stroke="#000" stroke-width="0.7"/>
<circle cx="119.40" cy="797.80" r="1.45" fill="#fff" stroke="#000" stroke-width="0.7"/>
<circle cx="119.40" cy="811.70" r="1.45" fill="#fff" stroke="#000" stroke-width="0.7"/>
<circle cx="116.70" cy="824.90" r="1.45" fill="#fff" stroke="#000" stroke-width="0.7"/>
<circle cx="122.00" cy="824.90" r="1.45" fill="#fff" stroke="#000" stroke-width="0.7"/>
<path d="M37.50 729.70V725.90H119.80V729.70" fill="none" stroke="#111" stroke-width="0.9"/>
<text x="78.65" y="722.00" font-size="5.36" text-anchor="middle" fill="#111" stroke="#111" stroke-width="0.16">p = 0.0001</text>
<path d="M58.20 743.70V739.90H119.80V743.70" fill="none" stroke="#111" stroke-width="0.9"/>
<text x="89.00" y="736.40" font-size="5.36" text-anchor="middle" fill="#111" stroke="#111" stroke-width="0.16">p = 0.0003</text>
<path d="M78.20 758.60V754.80H119.80V758.60" fill="none" stroke="#111" stroke-width="0.9"/>
<text x="99.00" y="751.10" font-size="5.36" text-anchor="middle" fill="#111" stroke="#111" stroke-width="0.16">p = 0.0002</text>
<path d="M98.70 773.20V769.40H119.80V773.20" fill="none" stroke="#111" stroke-width="0.9"/>
<text x="109.25" y="765.50" font-size="5.36" text-anchor="middle" fill="#111" stroke="#111" stroke-width="0.16">p = 0.0045</text>
<text x="216.30" y="677.10" font-size="10.4" font-weight="bold" text-anchor="middle" stroke="#000" stroke-width="0.14">irrCT26</text>
<line x1="163.10" y1="740.60" x2="163.10" y2="842.00" stroke="#000" stroke-width="1.0"/>
<line x1="159.90" y1="741.10" x2="163.10" y2="741.10" stroke="#000" stroke-width="1.0"/>
<text x="159.10" y="742.86" font-size="4.9" font-weight="bold" text-anchor="end" stroke="#000" stroke-width="0.17">1000</text>
<line x1="159.90" y1="761.18" x2="163.10" y2="761.18" stroke="#000" stroke-width="1.0"/>
<text x="159.10" y="762.94" font-size="4.9" font-weight="bold" text-anchor="end" stroke="#000" stroke-width="0.17">800</text>
<line x1="159.90" y1="781.26" x2="163.10" y2="781.26" stroke="#000" stroke-width="1.0"/>
<text x="159.10" y="783.02" font-size="4.9" font-weight="bold" text-anchor="end" stroke="#000" stroke-width="0.17">600</text>
<line x1="159.90" y1="801.34" x2="163.10" y2="801.34" stroke="#000" stroke-width="1.0"/>
<text x="159.10" y="803.10" font-size="4.9" font-weight="bold" text-anchor="end" stroke="#000" stroke-width="0.17">400</text>
<line x1="159.90" y1="821.42" x2="163.10" y2="821.42" stroke="#000" stroke-width="1.0"/>
<text x="159.10" y="823.18" font-size="4.9" font-weight="bold" text-anchor="end" stroke="#000" stroke-width="0.17">200</text>
<line x1="159.90" y1="841.50" x2="163.10" y2="841.50" stroke="#000" stroke-width="1.0"/>
<text x="159.10" y="843.26" font-size="4.9" font-weight="bold" text-anchor="end" stroke="#000" stroke-width="0.17">0</text>
<text x="144.20" y="791.30" font-size="5.38" font-weight="bold" text-anchor="middle" stroke="#000" stroke-width="0.17" transform="rotate(-90 144.20 791.30)">IFNγ SFU/10<tspan font-size="3.2" dy="-1.8">6</tspan><tspan dy="1.8"> splenocytes</tspan></text>
<line x1="176.50" y1="841.50" x2="176.50" y2="845.10" stroke="#000" stroke-width="1.0"/>
<text x="177.60" y="848.60" font-size="5.22" font-weight="bold" text-anchor="end" stroke="#000" stroke-width="0.17" transform="rotate(-45 177.60 848.60)">PBS</text>
<line x1="197.20" y1="841.50" x2="197.20" y2="845.10" stroke="#000" stroke-width="1.0"/>
<text x="198.30" y="848.60" font-size="5.22" font-weight="bold" text-anchor="end" stroke="#000" stroke-width="0.17" transform="rotate(-45 198.30 848.60)">VSVΔ51-HER2T</text>
<line x1="217.30" y1="841.50" x2="217.30" y2="845.10" stroke="#000" stroke-width="1.0"/>
<text x="218.40" y="848.60" font-size="5.22" font-weight="bold" text-anchor="end" stroke="#000" stroke-width="0.17" transform="rotate(-45 218.40 848.60)">VV-αHER2-TCE</text>
<line x1="237.70" y1="841.50" x2="237.70" y2="845.10" stroke="#000" stroke-width="1.0"/>
<text x="238.80" y="848.60" font-size="5.22" font-weight="bold" text-anchor="end" stroke="#000" stroke-width="0.17" transform="rotate(-45 238.80 848.60)">VSVΔ51-HER2T + VV-Ctrl-TCE</text>
<line x1="258.40" y1="841.50" x2="258.40" y2="845.10" stroke="#000" stroke-width="1.0"/>
<text x="259.50" y="848.60" font-size="5.22" font-weight="bold" text-anchor="end" stroke="#000" stroke-width="0.17" transform="rotate(-45 259.50 848.60)">VSVΔ51-HER2T + VV-αHER2-TCE</text>
<rect x="170.05" y="841.00" width="12.9" height="0.50" fill="#ffffff" stroke="#000" stroke-width="0.9"/>
<line x1="176.50" y1="840.40" x2="176.50" y2="841.60" stroke="#333" stroke-width="0.5"/>
<line x1="173.20" y1="840.40" x2="179.80" y2="840.40" stroke="#222" stroke-width="0.6"/>
<rect x="231.25" y="840.20" width="12.9" height="1.30" fill="#9250cf" stroke="#000" stroke-width="0.9"/>
<line x1="237.70" y1="839.00" x2="237.70" y2="841.40" stroke="#333" stroke-width="0.5"/>
<line x1="234.40" y1="839.00" x2="241.00" y2="839.00" stroke="#222" stroke-width="0.6"/>
<rect x="251.95" y="828.30" width="12.9" height="13.20" fill="#698bfb" stroke="#000" stroke-width="0.9"/>
<line x1="258.40" y1="822.30" x2="258.40" y2="834.30" stroke="#333" stroke-width="0.5"/>
<line x1="255.10" y1="822.30" x2="261.70" y2="822.30" stroke="#222" stroke-width="0.6"/>
<line x1="255.10" y1="834.30" x2="261.70" y2="834.30" stroke="#333" stroke-width="0.5"/>
<line x1="162.60" y1="841.50" x2="271.70" y2="841.50" stroke="#000" stroke-width="1.1"/>
<circle cx="171.50" cy="838.70" r="1.45" fill="#fff" stroke="#000" stroke-width="0.7"/>
<circle cx="174.50" cy="839.70" r="1.45" fill="#fff" stroke="#000" stroke-width="0.7"/>
<circle cx="171.50" cy="841.70" r="1.45" fill="#fff" stroke="#000" stroke-width="0.7"/>
<circle cx="177.70" cy="841.70" r="1.45" fill="#fff" stroke="#000" stroke-width="0.7"/>
<circle cx="182.20" cy="840.70" r="1.45" fill="#fff" stroke="#000" stroke-width="0.7"/>
<circle cx="191.80" cy="841.70" r="1.45" fill="#fff" stroke="#000" stroke-width="0.7"/>
<circle cx="194.60" cy="840.30" r="1.45" fill="#fff" stroke="#000" stroke-width="0.7"/>
<circle cx="198.20" cy="841.70" r="1.45" fill="#fff" stroke="#000" stroke-width="0.7"/>
<circle cx="201.60" cy="841.70" r="1.45" fill="#fff" stroke="#000" stroke-width="0.7"/>
<circle cx="211.80" cy="841.70" r="1.45" fill="#fff" stroke="#000" stroke-width="0.7"/>
<circle cx="214.60" cy="840.30" r="1.45" fill="#fff" stroke="#000" stroke-width="0.7"/>
<circle cx="218.80" cy="841.70" r="1.45" fill="#fff" stroke="#000" stroke-width="0.7"/>
<circle cx="222.30" cy="841.70" r="1.45" fill="#fff" stroke="#000" stroke-width="0.7"/>
<circle cx="232.70" cy="837.70" r="1.45" fill="#fff" stroke="#000" stroke-width="0.7"/>
<circle cx="235.70" cy="838.70" r="1.45" fill="#fff" stroke="#000" stroke-width="0.7"/>
<circle cx="232.70" cy="841.30" r="1.45" fill="#fff" stroke="#000" stroke-width="0.7"/>
<circle cx="239.30" cy="840.70" r="1.45" fill="#fff" stroke="#000" stroke-width="0.7"/>
<circle cx="243.30" cy="839.70" r="1.45" fill="#fff" stroke="#000" stroke-width="0.7"/>
<circle cx="258.00" cy="805.80" r="1.45" fill="#fff" stroke="#000" stroke-width="0.7"/>
<circle cx="252.60" cy="831.40" r="1.45" fill="#fff" stroke="#000" stroke-width="0.7"/>
<circle cx="252.60" cy="834.60" r="1.45" fill="#fff" stroke="#000" stroke-width="0.7"/>
<circle cx="258.00" cy="832.70" r="1.45" fill="#fff" stroke="#000" stroke-width="0.7"/>
<circle cx="263.60" cy="834.00" r="1.45" fill="#fff" stroke="#000" stroke-width="0.7"/>
<path d="M176.50 758.60V754.80H258.40V758.60" fill="none" stroke="#111" stroke-width="0.9"/>
<text x="217.45" y="750.50" font-size="5.36" text-anchor="middle" fill="#111" stroke="#111" stroke-width="0.16">p = 0.0063</text>
<path d="M197.20 772.60V768.80H258.40V772.60" fill="none" stroke="#111" stroke-width="0.9"/>
<text x="227.80" y="765.10" font-size="5.36" text-anchor="middle" fill="#111" stroke="#111" stroke-width="0.16">p = 0.0035</text>
<path d="M217.30 787.30V783.50H258.40V787.30" fill="none" stroke="#111" stroke-width="0.9"/>
<text x="237.85" y="779.50" font-size="5.36" text-anchor="middle" fill="#111" stroke="#111" stroke-width="0.16">p = 0.0035</text>
<path d="M237.70 801.90V798.10H258.40V801.90" fill="none" stroke="#111" stroke-width="0.9"/>
<text x="248.05" y="794.20" font-size="5.36" text-anchor="middle" fill="#111" stroke="#111" stroke-width="0.16">p = 0.0113</text>
<text x="345.50" y="677.10" font-size="10.4" font-weight="bold" text-anchor="middle" stroke="#000" stroke-width="0.14">irrJIMT1</text>
<line x1="295.10" y1="739.50" x2="295.10" y2="840.90" stroke="#000" stroke-width="1.0"/>
<line x1="291.90" y1="740.00" x2="295.10" y2="740.00" stroke="#000" stroke-width="1.0"/>
<text x="291.10" y="741.76" font-size="4.9" font-weight="bold" text-anchor="end" stroke="#000" stroke-width="0.17">1000</text>
<line x1="291.90" y1="760.08" x2="295.10" y2="760.08" stroke="#000" stroke-width="1.0"/>
<text x="291.10" y="761.84" font-size="4.9" font-weight="bold" text-anchor="end" stroke="#000" stroke-width="0.17">800</text>
<line x1="291.90" y1="780.16" x2="295.10" y2="780.16" stroke="#000" stroke-width="1.0"/>
<text x="291.10" y="781.92" font-size="4.9" font-weight="bold" text-anchor="end" stroke="#000" stroke-width="0.17">600</text>
<line x1="291.90" y1="800.24" x2="295.10" y2="800.24" stroke="#000" stroke-width="1.0"/>
<text x="291.10" y="802.00" font-size="4.9" font-weight="bold" text-anchor="end" stroke="#000" stroke-width="0.17">400</text>
<line x1="291.90" y1="820.32" x2="295.10" y2="820.32" stroke="#000" stroke-width="1.0"/>
<text x="291.10" y="822.08" font-size="4.9" font-weight="bold" text-anchor="end" stroke="#000" stroke-width="0.17">200</text>
<line x1="291.90" y1="840.40" x2="295.10" y2="840.40" stroke="#000" stroke-width="1.0"/>
<text x="291.10" y="842.16" font-size="4.9" font-weight="bold" text-anchor="end" stroke="#000" stroke-width="0.17">0</text>
<text x="275.80" y="790.20" font-size="5.38" font-weight="bold" text-anchor="middle" stroke="#000" stroke-width="0.17" transform="rotate(-90 275.80 790.20)">IFNγ SFU/10<tspan font-size="3.2" dy="-1.8">6</tspan><tspan dy="1.8"> splenocytes</tspan></text>
<line x1="308.50" y1="840.40" x2="308.50" y2="844.00" stroke="#000" stroke-width="1.0"/>
<text x="309.60" y="847.50" font-size="5.22" font-weight="bold" text-anchor="end" stroke="#000" stroke-width="0.17" transform="rotate(-45 309.60 847.50)">PBS</text>
<line x1="328.80" y1="840.40" x2="328.80" y2="844.00" stroke="#000" stroke-width="1.0"/>
<text x="329.90" y="847.50" font-size="5.22" font-weight="bold" text-anchor="end" stroke="#000" stroke-width="0.17" transform="rotate(-45 329.90 847.50)">VSVΔ51-HER2T</text>
<line x1="349.30" y1="840.40" x2="349.30" y2="844.00" stroke="#000" stroke-width="1.0"/>
<text x="350.40" y="847.50" font-size="5.22" font-weight="bold" text-anchor="end" stroke="#000" stroke-width="0.17" transform="rotate(-45 350.40 847.50)">VV-αHER2-TCE</text>
<line x1="369.30" y1="840.40" x2="369.30" y2="844.00" stroke="#000" stroke-width="1.0"/>
<text x="370.40" y="847.50" font-size="5.22" font-weight="bold" text-anchor="end" stroke="#000" stroke-width="0.17" transform="rotate(-45 370.40 847.50)">VSVΔ51-HER2T + VV-Ctrl-TCE</text>
<line x1="390.00" y1="840.40" x2="390.00" y2="844.00" stroke="#000" stroke-width="1.0"/>
<text x="391.10" y="847.50" font-size="5.22" font-weight="bold" text-anchor="end" stroke="#000" stroke-width="0.17" transform="rotate(-45 391.10 847.50)">VSVΔ51-HER2T + VV-αHER2-TCE</text>
<rect x="322.35" y="838.30" width="12.9" height="2.10" fill="#d9541e" stroke="#000" stroke-width="0.9"/>
<line x1="328.80" y1="835.30" x2="328.80" y2="841.30" stroke="#333" stroke-width="0.5"/>
<line x1="325.50" y1="835.30" x2="332.10" y2="835.30" stroke="#222" stroke-width="0.6"/>
<rect x="342.85" y="835.90" width="12.9" height="4.50" fill="#880e08" stroke="#000" stroke-width="0.9"/>
<line x1="349.30" y1="831.70" x2="349.30" y2="840.10" stroke="#333" stroke-width="0.5"/>
<line x1="346.00" y1="831.70" x2="352.60" y2="831.70" stroke="#222" stroke-width="0.6"/>
<rect x="362.85" y="829.30" width="12.9" height="11.10" fill="#9250cf" stroke="#000" stroke-width="0.9"/>
<line x1="369.30" y1="825.30" x2="369.30" y2="833.30" stroke="#333" stroke-width="0.5"/>
<line x1="366.00" y1="825.30" x2="372.60" y2="825.30" stroke="#222" stroke-width="0.6"/>
<line x1="366.00" y1="833.30" x2="372.60" y2="833.30" stroke="#333" stroke-width="0.5"/>
<rect x="383.55" y="806.60" width="12.9" height="33.80" fill="#698bfb" stroke="#000" stroke-width="0.9"/>
<line x1="390.00" y1="792.20" x2="390.00" y2="821.00" stroke="#333" stroke-width="0.5"/>
<line x1="386.70" y1="792.20" x2="393.30" y2="792.20" stroke="#222" stroke-width="0.6"/>
<line x1="386.70" y1="821.00" x2="393.30" y2="821.00" stroke="#333" stroke-width="0.5"/>
<line x1="294.60" y1="840.40" x2="403.70" y2="840.40" stroke="#000" stroke-width="1.1"/>
<circle cx="303.30" cy="840.50" r="1.45" fill="#fff" stroke="#000" stroke-width="0.7"/>
<circle cx="306.10" cy="839.50" r="1.45" fill="#fff" stroke="#000" stroke-width="0.7"/>
<circle cx="308.90" cy="840.50" r="1.45" fill="#fff" stroke="#000" stroke-width="0.7"/>
<circle cx="311.70" cy="840.00" r="1.45" fill="#fff" stroke="#000" stroke-width="0.7"/>
<circle cx="314.30" cy="840.50" r="1.45" fill="#fff" stroke="#000" stroke-width="0.7"/>
<circle cx="328.80" cy="829.70" r="1.45" fill="#fff" stroke="#000" stroke-width="0.7"/>
<circle cx="323.40" cy="840.30" r="1.45" fill="#fff" stroke="#000" stroke-width="0.7"/>
<circle cx="328.80" cy="839.70" r="1.45" fill="#fff" stroke="#000" stroke-width="0.7"/>
<circle cx="334.00" cy="840.30" r="1.45" fill="#fff" stroke="#000" stroke-width="0.7"/>
<circle cx="331.00" cy="840.50" r="1.45" fill="#fff" stroke="#000" stroke-width="0.7"/>
<circle cx="349.30" cy="822.30" r="1.45" fill="#fff" stroke="#000" stroke-width="0.7"/>
<circle cx="344.00" cy="840.30" r="1.45" fill="#fff" stroke="#000" stroke-width="0.7"/>
<circle cx="349.30" cy="840.30" r="1.45" fill="#fff" stroke="#000" stroke-width="0.7"/>
<circle cx="354.60" cy="840.50" r="1.45" fill="#fff" stroke="#000" stroke-width="0.7"/>
<circle cx="349.30" cy="836.00" r="1.45" fill="#fff" stroke="#000" stroke-width="0.7"/>
<circle cx="369.30" cy="820.30" r="1.45" fill="#fff" stroke="#000" stroke-width="0.7"/>
<circle cx="364.70" cy="827.90" r="1.45" fill="#fff" stroke="#000" stroke-width="0.7"/>
<circle cx="369.30" cy="829.30" r="1.45" fill="#fff" stroke="#000" stroke-width="0.7"/>
<circle cx="374.70" cy="828.30" r="1.45" fill="#fff" stroke="#000" stroke-width="0.7"/>
<circle cx="369.30" cy="835.90" r="1.45" fill="#fff" stroke="#000" stroke-width="0.7"/>
<circle cx="390.00" cy="754.10" r="1.45" fill="#fff" stroke="#000" stroke-width="0.7"/>
<circle cx="390.00" cy="800.80" r="1.45" fill="#fff" stroke="#000" stroke-width="0.7"/>
<circle cx="387.40" cy="820.90" r="1.45" fill="#fff" stroke="#000" stroke-width="0.7"/>
<circle cx="392.40" cy="822.30" r="1.45" fill="#fff" stroke="#000" stroke-width="0.7"/>
<circle cx="390.00" cy="833.30" r="1.45" fill="#fff" stroke="#000" stroke-width="0.7"/>
<path d="M308.50 706.00V702.20H390.40V706.00" fill="none" stroke="#111" stroke-width="0.9"/>
<text x="349.45" y="698.70" font-size="5.36" text-anchor="middle" fill="#111" stroke="#111" stroke-width="0.16">p = 0.0061</text>
<path d="M328.80 720.70V716.90H390.40V720.70" fill="none" stroke="#111" stroke-width="0.9"/>
<text x="359.60" y="713.30" font-size="5.36" text-anchor="middle" fill="#111" stroke="#111" stroke-width="0.16">p = 0.0106</text>
<path d="M349.30 735.70V731.90H390.40V735.70" fill="none" stroke="#111" stroke-width="0.9"/>
<text x="369.85" y="728.40" font-size="5.36" text-anchor="middle" fill="#111" stroke="#111" stroke-width="0.16">p = 0.0182</text>
<path d="M369.30 750.10V746.30H390.40V750.10" fill="none" stroke="#111" stroke-width="0.9"/>
<text x="379.85" y="742.80" font-size="5.36" text-anchor="middle" fill="#111" stroke="#111" stroke-width="0.16">p = 0.0945</text>
<text x="486.50" y="677.10" font-size="10.4" font-weight="bold" text-anchor="middle" stroke="#000" stroke-width="0.14">VSV-N</text>
<line x1="433.50" y1="737.60" x2="433.50" y2="839.00" stroke="#000" stroke-width="1.0"/>
<line x1="430.30" y1="738.10" x2="433.50" y2="738.10" stroke="#000" stroke-width="1.0"/>
<text x="429.50" y="739.86" font-size="4.9" font-weight="bold" text-anchor="end" stroke="#000" stroke-width="0.17">1000</text>
<line x1="430.30" y1="758.18" x2="433.50" y2="758.18" stroke="#000" stroke-width="1.0"/>
<text x="429.50" y="759.94" font-size="4.9" font-weight="bold" text-anchor="end" stroke="#000" stroke-width="0.17">800</text>
<line x1="430.30" y1="778.26" x2="433.50" y2="778.26" stroke="#000" stroke-width="1.0"/>
<text x="429.50" y="780.02" font-size="4.9" font-weight="bold" text-anchor="end" stroke="#000" stroke-width="0.17">600</text>
<line x1="430.30" y1="798.34" x2="433.50" y2="798.34" stroke="#000" stroke-width="1.0"/>
<text x="429.50" y="800.10" font-size="4.9" font-weight="bold" text-anchor="end" stroke="#000" stroke-width="0.17">400</text>
<line x1="430.30" y1="818.42" x2="433.50" y2="818.42" stroke="#000" stroke-width="1.0"/>
<text x="429.50" y="820.18" font-size="4.9" font-weight="bold" text-anchor="end" stroke="#000" stroke-width="0.17">200</text>
<line x1="430.30" y1="838.50" x2="433.50" y2="838.50" stroke="#000" stroke-width="1.0"/>
<text x="429.50" y="840.26" font-size="4.9" font-weight="bold" text-anchor="end" stroke="#000" stroke-width="0.17">0</text>
<text x="414.20" y="788.30" font-size="5.38" font-weight="bold" text-anchor="middle" stroke="#000" stroke-width="0.17" transform="rotate(-90 414.20 788.30)">IFNγ SFU/10<tspan font-size="3.2" dy="-1.8">6</tspan><tspan dy="1.8"> splenocytes</tspan></text>
<line x1="447.10" y1="838.50" x2="447.10" y2="842.10" stroke="#000" stroke-width="1.0"/>
<text x="448.20" y="845.60" font-size="5.22" font-weight="bold" text-anchor="end" stroke="#000" stroke-width="0.17" transform="rotate(-45 448.20 845.60)">PBS</text>
<line x1="467.60" y1="838.50" x2="467.60" y2="842.10" stroke="#000" stroke-width="1.0"/>
<text x="468.70" y="845.60" font-size="5.22" font-weight="bold" text-anchor="end" stroke="#000" stroke-width="0.17" transform="rotate(-45 468.70 845.60)">VSVΔ51-HER2T</text>
<line x1="487.90" y1="838.50" x2="487.90" y2="842.10" stroke="#000" stroke-width="1.0"/>
<text x="489.00" y="845.60" font-size="5.22" font-weight="bold" text-anchor="end" stroke="#000" stroke-width="0.17" transform="rotate(-45 489.00 845.60)">VV-αHER2-TCE</text>
<line x1="508.30" y1="838.50" x2="508.30" y2="842.10" stroke="#000" stroke-width="1.0"/>
<text x="509.40" y="845.60" font-size="5.22" font-weight="bold" text-anchor="end" stroke="#000" stroke-width="0.17" transform="rotate(-45 509.40 845.60)">VSVΔ51-HER2T + VV-Ctrl-TCE</text>
<line x1="528.80" y1="838.50" x2="528.80" y2="842.10" stroke="#000" stroke-width="1.0"/>
<text x="529.90" y="845.60" font-size="5.22" font-weight="bold" text-anchor="end" stroke="#000" stroke-width="0.17" transform="rotate(-45 529.90 845.60)">VSVΔ51-HER2T + VV-αHER2-TCE</text>
<rect x="440.65" y="837.60" width="12.9" height="0.90" fill="#ffffff" stroke="#000" stroke-width="0.9"/>
<line x1="447.10" y1="836.60" x2="447.10" y2="838.50" stroke="#333" stroke-width="0.5"/>
<line x1="443.80" y1="836.60" x2="450.40" y2="836.60" stroke="#222" stroke-width="0.6"/>
<rect x="461.15" y="833.30" width="12.9" height="5.20" fill="#d9541e" stroke="#000" stroke-width="0.9"/>
<line x1="467.60" y1="831.30" x2="467.60" y2="835.30" stroke="#333" stroke-width="0.5"/>
<line x1="464.30" y1="831.30" x2="470.90" y2="831.30" stroke="#222" stroke-width="0.6"/>
<line x1="464.30" y1="835.30" x2="470.90" y2="835.30" stroke="#333" stroke-width="0.5"/>
<rect x="501.85" y="827.30" width="12.9" height="11.20" fill="#9250cf" stroke="#000" stroke-width="0.9"/>
<line x1="508.30" y1="824.00" x2="508.30" y2="830.60" stroke="#333" stroke-width="0.5"/>
<line x1="505.00" y1="824.00" x2="511.60" y2="824.00" stroke="#222" stroke-width="0.6"/>
<line x1="505.00" y1="830.60" x2="511.60" y2="830.60" stroke="#333" stroke-width="0.5"/>
<rect x="522.35" y="825.30" width="12.9" height="13.20" fill="#698bfb" stroke="#000" stroke-width="0.9"/>
<line x1="528.80" y1="823.30" x2="528.80" y2="827.30" stroke="#333" stroke-width="0.5"/>
<line x1="525.50" y1="823.30" x2="532.10" y2="823.30" stroke="#222" stroke-width="0.6"/>
<line x1="525.50" y1="827.30" x2="532.10" y2="827.30" stroke="#333" stroke-width="0.5"/>
<line x1="433.00" y1="838.50" x2="541.80" y2="838.50" stroke="#000" stroke-width="1.1"/>
<circle cx="441.70" cy="838.10" r="1.45" fill="#fff" stroke="#000" stroke-width="0.7"/>
<circle cx="444.70" cy="835.90" r="1.45" fill="#fff" stroke="#000" stroke-width="0.7"/>
<circle cx="447.10" cy="837.50" r="1.45" fill="#fff" stroke="#000" stroke-width="0.7"/>
<circle cx="449.90" cy="837.90" r="1.45" fill="#fff" stroke="#000" stroke-width="0.7"/>
<circle cx="452.70" cy="838.30" r="1.45" fill="#fff" stroke="#000" stroke-width="0.7"/>
<circle cx="467.60" cy="828.30" r="1.45" fill="#fff" stroke="#000" stroke-width="0.7"/>
<circle cx="464.20" cy="833.30" r="1.45" fill="#fff" stroke="#000" stroke-width="0.7"/>
<circle cx="470.20" cy="832.30" r="1.45" fill="#fff" stroke="#000" stroke-width="0.7"/>
<circle cx="465.20" cy="835.90" r="1.45" fill="#fff" stroke="#000" stroke-width="0.7"/>
<circle cx="470.20" cy="835.90" r="1.45" fill="#fff" stroke="#000" stroke-width="0.7"/>
<circle cx="482.50" cy="838.30" r="1.45" fill="#fff" stroke="#000" stroke-width="0.7"/>
<circle cx="485.30" cy="836.50" r="1.45" fill="#fff" stroke="#000" stroke-width="0.7"/>
<circle cx="487.90" cy="838.30" r="1.45" fill="#fff" stroke="#000" stroke-width="0.7"/>
<circle cx="490.70" cy="838.10" r="1.45" fill="#fff" stroke="#000" stroke-width="0.7"/>
<circle cx="493.50" cy="838.30" r="1.45" fill="#fff" stroke="#000" stroke-width="0.7"/>
<circle cx="508.30" cy="820.30" r="1.45" fill="#fff" stroke="#000" stroke-width="0.7"/>
<circle cx="508.30" cy="823.30" r="1.45" fill="#fff" stroke="#000" stroke-width="0.7"/>
<circle cx="508.30" cy="827.30" r="1.45" fill="#fff" stroke="#000" stroke-width="0.7"/>
<circle cx="505.30" cy="831.30" r="1.45" fill="#fff" stroke="#000" stroke-width="0.7"/>
<circle cx="511.30" cy="830.30" r="1.45" fill="#fff" stroke="#000" stroke-width="0.7"/>
<circle cx="528.80" cy="819.70" r="1.45" fill="#fff" stroke="#000" stroke-width="0.7"/>
<circle cx="528.80" cy="823.70" r="1.45" fill="#fff" stroke="#000" stroke-width="0.7"/>
<circle cx="523.80" cy="827.30" r="1.45" fill="#fff" stroke="#000" stroke-width="0.7"/>
<circle cx="533.40" cy="825.90" r="1.45" fill="#fff" stroke="#000" stroke-width="0.7"/>
<circle cx="524.40" cy="829.30" r="1.45" fill="#fff" stroke="#000" stroke-width="0.7"/>
<path d="M447.10 771.80V768.00H528.80V771.80" fill="none" stroke="#111" stroke-width="0.9"/>
<text x="487.95" y="764.50" font-size="5.36" text-anchor="middle" fill="#111" stroke="#111" stroke-width="0.16">p &lt; 0.0001</text>
<path d="M467.20 786.70V782.90H528.80V786.70" fill="none" stroke="#111" stroke-width="0.9"/>
<text x="498.00" y="779.10" font-size="5.36" text-anchor="middle" fill="#111" stroke="#111" stroke-width="0.16">p = 0.0034</text>
<path d="M487.70 801.30V797.50H528.80V801.30" fill="none" stroke="#111" stroke-width="0.9"/>
<text x="508.25" y="793.60" font-size="5.36" text-anchor="middle" fill="#111" stroke="#111" stroke-width="0.16">p &lt; 0.0001</text>
<path d="M508.30 815.50V811.70H528.80V815.50" fill="none" stroke="#111" stroke-width="0.9"/>
<text x="518.55" y="808.20" font-size="5.36" text-anchor="middle" fill="#111" stroke="#111" stroke-width="0.16">p = 0.7520</text>
<text x="623.10" y="677.10" font-size="10.4" font-weight="bold" text-anchor="middle" stroke="#000" stroke-width="0.14">VV-F2/E3</text>
<line x1="571.50" y1="736.50" x2="571.50" y2="837.80" stroke="#000" stroke-width="1.0"/>
<line x1="568.30" y1="737.00" x2="571.50" y2="737.00" stroke="#000" stroke-width="1.0"/>
<text x="567.50" y="738.76" font-size="4.9" font-weight="bold" text-anchor="end" stroke="#000" stroke-width="0.17">1000</text>
<line x1="568.30" y1="757.06" x2="571.50" y2="757.06" stroke="#000" stroke-width="1.0"/>
<text x="567.50" y="758.82" font-size="4.9" font-weight="bold" text-anchor="end" stroke="#000" stroke-width="0.17">800</text>
<line x1="568.30" y1="777.12" x2="571.50" y2="777.12" stroke="#000" stroke-width="1.0"/>
<text x="567.50" y="778.88" font-size="4.9" font-weight="bold" text-anchor="end" stroke="#000" stroke-width="0.17">600</text>
<line x1="568.30" y1="797.18" x2="571.50" y2="797.18" stroke="#000" stroke-width="1.0"/>
<text x="567.50" y="798.94" font-size="4.9" font-weight="bold" text-anchor="end" stroke="#000" stroke-width="0.17">400</text>
<line x1="568.30" y1="817.24" x2="571.50" y2="817.24" stroke="#000" stroke-width="1.0"/>
<text x="567.50" y="819.00" font-size="4.9" font-weight="bold" text-anchor="end" stroke="#000" stroke-width="0.17">200</text>
<line x1="568.30" y1="837.30" x2="571.50" y2="837.30" stroke="#000" stroke-width="1.0"/>
<text x="567.50" y="839.06" font-size="4.9" font-weight="bold" text-anchor="end" stroke="#000" stroke-width="0.17">0</text>
<text x="552.20" y="787.15" font-size="5.38" font-weight="bold" text-anchor="middle" stroke="#000" stroke-width="0.17" transform="rotate(-90 552.20 787.15)">IFNγ SFU/10<tspan font-size="3.2" dy="-1.8">6</tspan><tspan dy="1.8"> splenocytes</tspan></text>
<line x1="585.10" y1="837.30" x2="585.10" y2="840.90" stroke="#000" stroke-width="1.0"/>
<text x="586.20" y="844.40" font-size="5.22" font-weight="bold" text-anchor="end" stroke="#000" stroke-width="0.17" transform="rotate(-45 586.20 844.40)">PBS</text>
<line x1="605.60" y1="837.30" x2="605.60" y2="840.90" stroke="#000" stroke-width="1.0"/>
<text x="606.70" y="844.40" font-size="5.22" font-weight="bold" text-anchor="end" stroke="#000" stroke-width="0.17" transform="rotate(-45 606.70 844.40)">VSVΔ51-HER2T</text>
<line x1="625.80" y1="837.30" x2="625.80" y2="840.90" stroke="#000" stroke-width="1.0"/>
<text x="626.90" y="844.40" font-size="5.22" font-weight="bold" text-anchor="end" stroke="#000" stroke-width="0.17" transform="rotate(-45 626.90 844.40)">VV-αHER2-TCE</text>
<line x1="646.30" y1="837.30" x2="646.30" y2="840.90" stroke="#000" stroke-width="1.0"/>
<text x="647.40" y="844.40" font-size="5.22" font-weight="bold" text-anchor="end" stroke="#000" stroke-width="0.17" transform="rotate(-45 647.40 844.40)">VSVΔ51-HER2T + VV-Ctrl-TCE</text>
<line x1="666.80" y1="837.30" x2="666.80" y2="840.90" stroke="#000" stroke-width="1.0"/>
<text x="667.90" y="844.40" font-size="5.22" font-weight="bold" text-anchor="end" stroke="#000" stroke-width="0.17" transform="rotate(-45 667.90 844.40)">VSVΔ51-HER2T + VV-αHER2-TCE</text>
<rect x="578.65" y="836.00" width="12.9" height="1.30" fill="#ffffff" stroke="#000" stroke-width="0.9"/>
<line x1="585.10" y1="835.00" x2="585.10" y2="837.00" stroke="#333" stroke-width="0.5"/>
<line x1="581.80" y1="835.00" x2="588.40" y2="835.00" stroke="#222" stroke-width="0.6"/>
<rect x="599.15" y="836.40" width="12.9" height="0.90" fill="#d9541e" stroke="#000" stroke-width="0.9"/>
<line x1="605.60" y1="835.60" x2="605.60" y2="837.20" stroke="#333" stroke-width="0.5"/>
<line x1="602.30" y1="835.60" x2="608.90" y2="835.60" stroke="#222" stroke-width="0.6"/>
<rect x="619.35" y="821.70" width="12.9" height="15.60" fill="#880e08" stroke="#000" stroke-width="0.9"/>
<line x1="625.80" y1="815.10" x2="625.80" y2="827.60" stroke="#333" stroke-width="0.5"/>
<line x1="622.50" y1="815.10" x2="629.10" y2="815.10" stroke="#222" stroke-width="0.6"/>
<line x1="622.50" y1="827.60" x2="629.10" y2="827.60" stroke="#333" stroke-width="0.5"/>
<rect x="639.85" y="821.10" width="12.9" height="16.20" fill="#9250cf" stroke="#000" stroke-width="0.9"/>
<line x1="646.30" y1="818.70" x2="646.30" y2="823.50" stroke="#333" stroke-width="0.5"/>
<line x1="643.00" y1="818.70" x2="649.60" y2="818.70" stroke="#222" stroke-width="0.6"/>
<line x1="643.00" y1="823.50" x2="649.60" y2="823.50" stroke="#333" stroke-width="0.5"/>
<rect x="660.35" y="818.90" width="12.9" height="18.40" fill="#698bfb" stroke="#000" stroke-width="0.9"/>
<line x1="666.80" y1="817.20" x2="666.80" y2="820.90" stroke="#333" stroke-width="0.5"/>
<line x1="663.50" y1="817.20" x2="670.10" y2="817.20" stroke="#222" stroke-width="0.6"/>
<line x1="663.50" y1="820.90" x2="670.10" y2="820.90" stroke="#333" stroke-width="0.5"/>
<line x1="571.00" y1="837.30" x2="679.80" y2="837.30" stroke="#000" stroke-width="1.1"/>
<circle cx="580.10" cy="833.90" r="1.45" fill="#fff" stroke="#000" stroke-width="0.7"/>
<circle cx="583.10" cy="835.70" r="1.45" fill="#fff" stroke="#000" stroke-width="0.7"/>
<circle cx="580.10" cy="837.30" r="1.45" fill="#fff" stroke="#000" stroke-width="0.7"/>
<circle cx="587.10" cy="836.30" r="1.45" fill="#fff" stroke="#000" stroke-width="0.7"/>
<circle cx="590.10" cy="835.90" r="1.45" fill="#fff" stroke="#000" stroke-width="0.7"/>
<circle cx="605.60" cy="832.30" r="1.45" fill="#fff" stroke="#000" stroke-width="0.7"/>
<circle cx="600.60" cy="836.90" r="1.45" fill="#fff" stroke="#000" stroke-width="0.7"/>
<circle cx="603.20" cy="836.90" r="1.45" fill="#fff" stroke="#000" stroke-width="0.7"/>
<circle cx="608.20" cy="836.90" r="1.45" fill="#fff" stroke="#000" stroke-width="0.7"/>
<circle cx="611.20" cy="837.30" r="1.45" fill="#fff" stroke="#000" stroke-width="0.7"/>
<circle cx="623.20" cy="806.20" r="1.45" fill="#fff" stroke="#000" stroke-width="0.7"/>
<circle cx="628.40" cy="807.80" r="1.45" fill="#fff" stroke="#000" stroke-width="0.7"/>
<circle cx="625.80" cy="821.80" r="1.45" fill="#fff" stroke="#000" stroke-width="0.7"/>
<circle cx="625.80" cy="833.40" r="1.45" fill="#fff" stroke="#000" stroke-width="0.7"/>
<circle cx="625.80" cy="837.50" r="1.45" fill="#fff" stroke="#000" stroke-width="0.7"/>
<circle cx="646.20" cy="814.80" r="1.45" fill="#fff" stroke="#000" stroke-width="0.7"/>
<circle cx="646.20" cy="818.30" r="1.45" fill="#fff" stroke="#000" stroke-width="0.7"/>
<circle cx="646.20" cy="823.00" r="1.45" fill="#fff" stroke="#000" stroke-width="0.7"/>
<circle cx="641.00" cy="824.30" r="1.45" fill="#fff" stroke="#000" stroke-width="0.7"/>
<circle cx="651.50" cy="824.00" r="1.45" fill="#fff" stroke="#000" stroke-width="0.7"/>
<circle cx="663.90" cy="813.90" r="1.45" fill="#fff" stroke="#000" stroke-width="0.7"/>
<circle cx="669.10" cy="814.10" r="1.45" fill="#fff" stroke="#000" stroke-width="0.7"/>
<circle cx="664.50" cy="817.50" r="1.45" fill="#fff" stroke="#000" stroke-width="0.7"/>
<circle cx="668.90" cy="819.90" r="1.45" fill="#fff" stroke="#000" stroke-width="0.7"/>
<circle cx="666.70" cy="827.40" r="1.45" fill="#fff" stroke="#000" stroke-width="0.7"/>
<path d="M585.10 758.60V754.80H666.80V758.60" fill="none" stroke="#111" stroke-width="0.9"/>
<text x="625.95" y="751.10" font-size="5.36" text-anchor="middle" fill="#111" stroke="#111" stroke-width="0.16">p = 0.0039</text>
<path d="M605.60 772.80V769.00H666.80V772.80" fill="none" stroke="#111" stroke-width="0.9"/>
<text x="636.20" y="765.50" font-size="5.36" text-anchor="middle" fill="#111" stroke="#111" stroke-width="0.16">p = 0.0031</text>
<path d="M625.60 787.70V783.90H666.80V787.70" fill="none" stroke="#111" stroke-width="0.9"/>
<text x="646.20" y="780.10" font-size="5.36" text-anchor="middle" fill="#111" stroke="#111" stroke-width="0.16">p = 0.9332</text>
<path d="M646.30 802.70V798.90H666.80V802.70" fill="none" stroke="#111" stroke-width="0.9"/>
<text x="656.55" y="795.00" font-size="5.36" text-anchor="middle" fill="#111" stroke="#111" stroke-width="0.16">p = 0.9714</text>
</svg>
</body></html>
